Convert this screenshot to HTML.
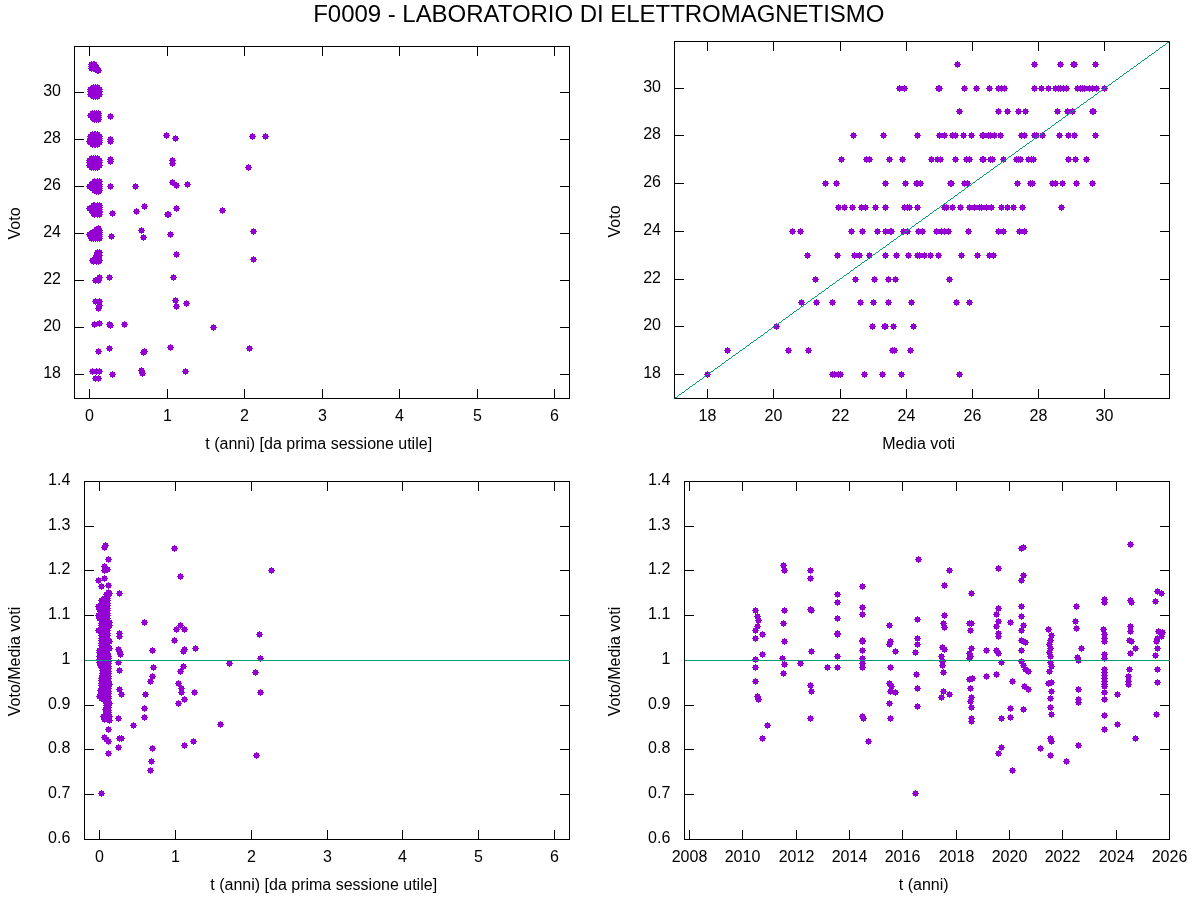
<!DOCTYPE html>
<html><head><meta charset="utf-8"><title>F0009 - LABORATORIO DI ELETTROMAGNETISMO</title>
<style>html,body{margin:0;padding:0;background:#fff;}svg{display:block;opacity:0.999;will-change:transform;}text{font-family:"Liberation Sans", sans-serif;font-size:16px;fill:#000;}</style></head><body>
<svg width="1200" height="900" viewBox="0 0 1200 900">
<rect width="1200" height="900" fill="#fff"/>
<text x="313.2" y="21.7" textLength="571.2" style="font-size:24px">F0009 - LABORATORIO DI ELETTROMAGNETISMO</text>
<path d="M89.5 399.0V389.0M89.5 46.0V56.0M167.5 399.0V389.0M167.5 46.0V56.0M244.5 399.0V389.0M244.5 46.0V56.0M322.5 399.0V389.0M322.5 46.0V56.0M399.5 399.0V389.0M399.5 46.0V56.0M477.5 399.0V389.0M477.5 46.0V56.0M554.5 399.0V389.0M554.5 46.0V56.0M74.0 374.5H84.0M570.0 374.5H560.0M74.0 327.5H84.0M570.0 327.5H560.0M74.0 280.5H84.0M570.0 280.5H560.0M74.0 233.5H84.0M570.0 233.5H560.0M74.0 186.5H84.0M570.0 186.5H560.0M74.0 139.5H84.0M570.0 139.5H560.0M74.0 92.5H84.0M570.0 92.5H560.0" stroke="#000" stroke-width="1" fill="none" shape-rendering="crispEdges"/>
<rect x="74.5" y="46.5" width="495.0" height="352.0" fill="none" stroke="#000" stroke-width="1" shape-rendering="crispEdges"/>
<text x="89.5" y="421.1" text-anchor="middle">0</text>
<text x="167.5" y="421.1" text-anchor="middle">1</text>
<text x="244.5" y="421.1" text-anchor="middle">2</text>
<text x="322.5" y="421.1" text-anchor="middle">3</text>
<text x="399.5" y="421.1" text-anchor="middle">4</text>
<text x="477.5" y="421.1" text-anchor="middle">5</text>
<text x="554.5" y="421.1" text-anchor="middle">6</text>
<text x="61.0" y="378.0" text-anchor="end">18</text>
<text x="61.0" y="331.0" text-anchor="end">20</text>
<text x="61.0" y="284.0" text-anchor="end">22</text>
<text x="61.0" y="237.0" text-anchor="end">24</text>
<text x="61.0" y="190.0" text-anchor="end">26</text>
<text x="61.0" y="143.0" text-anchor="end">28</text>
<text x="61.0" y="96.0" text-anchor="end">30</text>
<text x="318.7" y="448.5" text-anchor="middle">t (anni) [da prima sessione utile]</text>
<text transform="translate(19.6 223.4) rotate(-90)" text-anchor="middle">Voto</text>
<path fill="#9400d3" d="M87 139h5v5h-5zm-1 2h7v1h-7zm3-3h1v7h-1zM87 158h5v5h-5zm-1 2h7v1h-7zm3-3h1v7h-1zM87 160h5v5h-5zm-1 2h7v1h-7zm3-3h1v7h-1zM87 163h5v5h-5zm-1 2h7v1h-7zm3-3h1v7h-1zM87 184h5v5h-5zm-1 2h7v1h-7zm3-3h1v7h-1zM87 206h5v5h-5zm-1 2h7v1h-7zm3-3h1v7h-1zM87 232h5v5h-5zm-1 2h7v1h-7zm3-3h1v7h-1zM88 87h5v5h-5zm-1 2h7v1h-7zm3-3h1v7h-1zM88 89h5v5h-5zm-1 2h7v1h-7zm3-3h1v7h-1zM88 92h5v5h-5zm-1 2h7v1h-7zm3-3h1v7h-1zM88 113h5v5h-5zm-1 2h7v1h-7zm3-3h1v7h-1zM88 134h5v5h-5zm-1 2h7v1h-7zm3-3h1v7h-1zM88 136h5v5h-5zm-1 2h7v1h-7zm3-3h1v7h-1zM88 138h5v5h-5zm-1 2h7v1h-7zm3-3h1v7h-1zM88 140h5v5h-5zm-1 2h7v1h-7zm3-3h1v7h-1zM88 234h5v5h-5zm-1 2h7v1h-7zm3-3h1v7h-1zM89 62h5v5h-5zm-1 2h7v1h-7zm3-3h1v7h-1zM89 64h5v5h-5zm-1 2h7v1h-7zm3-3h1v7h-1zM89 66h5v5h-5zm-1 2h7v1h-7zm3-3h1v7h-1zM89 156h5v5h-5zm-1 2h7v1h-7zm3-3h1v7h-1zM89 158h5v5h-5zm-1 2h7v1h-7zm3-3h1v7h-1zM89 160h5v5h-5zm-1 2h7v1h-7zm3-3h1v7h-1zM89 163h5v5h-5zm-1 2h7v1h-7zm3-3h1v7h-1zM89 165h5v5h-5zm-1 2h7v1h-7zm3-3h1v7h-1zM89 182h5v5h-5zm-1 2h7v1h-7zm3-3h1v7h-1zM89 185h5v5h-5zm-1 2h7v1h-7zm3-3h1v7h-1zM89 205h5v5h-5zm-1 2h7v1h-7zm3-3h1v7h-1zM89 208h5v5h-5zm-1 2h7v1h-7zm3-3h1v7h-1zM89 232h5v5h-5zm-1 2h7v1h-7zm3-3h1v7h-1zM89 236h5v5h-5zm-1 2h7v1h-7zm3-3h1v7h-1zM90 111h5v5h-5zm-1 2h7v1h-7zm3-3h1v7h-1zM90 112h5v5h-5zm-1 2h7v1h-7zm3-3h1v7h-1zM90 115h5v5h-5zm-1 2h7v1h-7zm3-3h1v7h-1zM90 132h5v5h-5zm-1 2h7v1h-7zm3-3h1v7h-1zM90 134h5v5h-5zm-1 2h7v1h-7zm3-3h1v7h-1zM90 136h5v5h-5zm-1 2h7v1h-7zm3-3h1v7h-1zM90 138h5v5h-5zm-1 2h7v1h-7zm3-3h1v7h-1zM90 140h5v5h-5zm-1 2h7v1h-7zm3-3h1v7h-1zM90 142h5v5h-5zm-1 2h7v1h-7zm3-3h1v7h-1zM90 181h5v5h-5zm-1 2h7v1h-7zm3-3h1v7h-1zM90 186h5v5h-5zm-1 2h7v1h-7zm3-3h1v7h-1zM90 206h5v5h-5zm-1 2h7v1h-7zm3-3h1v7h-1zM90 230h5v5h-5zm-1 2h7v1h-7zm3-3h1v7h-1zM90 234h5v5h-5zm-1 2h7v1h-7zm3-3h1v7h-1zM90 258h5v5h-5zm-1 2h7v1h-7zm3-3h1v7h-1zM90 369h5v5h-5zm-1 2h7v1h-7zm3-3h1v7h-1zM91 62h5v5h-5zm-1 2h7v1h-7zm3-3h1v7h-1zM91 64h5v5h-5zm-1 2h7v1h-7zm3-3h1v7h-1zM91 66h5v5h-5zm-1 2h7v1h-7zm3-3h1v7h-1zM91 85h5v5h-5zm-1 2h7v1h-7zm3-3h1v7h-1zM91 87h5v5h-5zm-1 2h7v1h-7zm3-3h1v7h-1zM91 89h5v5h-5zm-1 2h7v1h-7zm3-3h1v7h-1zM91 92h5v5h-5zm-1 2h7v1h-7zm3-3h1v7h-1zM91 94h5v5h-5zm-1 2h7v1h-7zm3-3h1v7h-1zM91 116h5v5h-5zm-1 2h7v1h-7zm3-3h1v7h-1zM91 156h5v5h-5zm-1 2h7v1h-7zm3-3h1v7h-1zM91 158h5v5h-5zm-1 2h7v1h-7zm3-3h1v7h-1zM91 160h5v5h-5zm-1 2h7v1h-7zm3-3h1v7h-1zM91 163h5v5h-5zm-1 2h7v1h-7zm3-3h1v7h-1zM91 165h5v5h-5zm-1 2h7v1h-7zm3-3h1v7h-1zM91 183h5v5h-5zm-1 2h7v1h-7zm3-3h1v7h-1zM91 203h5v5h-5zm-1 2h7v1h-7zm3-3h1v7h-1zM91 209h5v5h-5zm-1 2h7v1h-7zm3-3h1v7h-1zM91 211h5v5h-5zm-1 2h7v1h-7zm3-3h1v7h-1zM91 232h5v5h-5zm-1 2h7v1h-7zm3-3h1v7h-1zM91 236h5v5h-5zm-1 2h7v1h-7zm3-3h1v7h-1zM91 259h5v5h-5zm-1 2h7v1h-7zm3-3h1v7h-1zM92 62h5v5h-5zm-1 2h7v1h-7zm3-3h1v7h-1zM92 64h5v5h-5zm-1 2h7v1h-7zm3-3h1v7h-1zM92 66h5v5h-5zm-1 2h7v1h-7zm3-3h1v7h-1zM92 111h5v5h-5zm-1 2h7v1h-7zm3-3h1v7h-1zM92 113h5v5h-5zm-1 2h7v1h-7zm3-3h1v7h-1zM92 115h5v5h-5zm-1 2h7v1h-7zm3-3h1v7h-1zM92 117h5v5h-5zm-1 2h7v1h-7zm3-3h1v7h-1zM92 132h5v5h-5zm-1 2h7v1h-7zm3-3h1v7h-1zM92 134h5v5h-5zm-1 2h7v1h-7zm3-3h1v7h-1zM92 136h5v5h-5zm-1 2h7v1h-7zm3-3h1v7h-1zM92 138h5v5h-5zm-1 2h7v1h-7zm3-3h1v7h-1zM92 140h5v5h-5zm-1 2h7v1h-7zm3-3h1v7h-1zM92 142h5v5h-5zm-1 2h7v1h-7zm3-3h1v7h-1zM92 179h5v5h-5zm-1 2h7v1h-7zm3-3h1v7h-1zM92 182h5v5h-5zm-1 2h7v1h-7zm3-3h1v7h-1zM92 184h5v5h-5zm-1 2h7v1h-7zm3-3h1v7h-1zM92 186h5v5h-5zm-1 2h7v1h-7zm3-3h1v7h-1zM92 188h5v5h-5zm-1 2h7v1h-7zm3-3h1v7h-1zM92 203h5v5h-5zm-1 2h7v1h-7zm3-3h1v7h-1zM92 205h5v5h-5zm-1 2h7v1h-7zm3-3h1v7h-1zM92 207h5v5h-5zm-1 2h7v1h-7zm3-3h1v7h-1zM92 209h5v5h-5zm-1 2h7v1h-7zm3-3h1v7h-1zM92 210h5v5h-5zm-1 2h7v1h-7zm3-3h1v7h-1zM92 212h5v5h-5zm-1 2h7v1h-7zm3-3h1v7h-1zM92 229h5v5h-5zm-1 2h7v1h-7zm3-3h1v7h-1zM92 230h5v5h-5zm-1 2h7v1h-7zm3-3h1v7h-1zM92 234h5v5h-5zm-1 2h7v1h-7zm3-3h1v7h-1zM92 257h5v5h-5zm-1 2h7v1h-7zm3-3h1v7h-1zM92 322h5v5h-5zm-1 2h7v1h-7zm3-3h1v7h-1zM93 85h5v5h-5zm-1 2h7v1h-7zm3-3h1v7h-1zM93 87h5v5h-5zm-1 2h7v1h-7zm3-3h1v7h-1zM93 89h5v5h-5zm-1 2h7v1h-7zm3-3h1v7h-1zM93 92h5v5h-5zm-1 2h7v1h-7zm3-3h1v7h-1zM93 94h5v5h-5zm-1 2h7v1h-7zm3-3h1v7h-1zM93 132h5v5h-5zm-1 2h7v1h-7zm3-3h1v7h-1zM93 134h5v5h-5zm-1 2h7v1h-7zm3-3h1v7h-1zM93 136h5v5h-5zm-1 2h7v1h-7zm3-3h1v7h-1zM93 138h5v5h-5zm-1 2h7v1h-7zm3-3h1v7h-1zM93 140h5v5h-5zm-1 2h7v1h-7zm3-3h1v7h-1zM93 142h5v5h-5zm-1 2h7v1h-7zm3-3h1v7h-1zM93 156h5v5h-5zm-1 2h7v1h-7zm3-3h1v7h-1zM93 158h5v5h-5zm-1 2h7v1h-7zm3-3h1v7h-1zM93 160h5v5h-5zm-1 2h7v1h-7zm3-3h1v7h-1zM93 163h5v5h-5zm-1 2h7v1h-7zm3-3h1v7h-1zM93 165h5v5h-5zm-1 2h7v1h-7zm3-3h1v7h-1zM93 232h5v5h-5zm-1 2h7v1h-7zm3-3h1v7h-1zM93 234h5v5h-5zm-1 2h7v1h-7zm3-3h1v7h-1zM93 236h5v5h-5zm-1 2h7v1h-7zm3-3h1v7h-1zM93 255h5v5h-5zm-1 2h7v1h-7zm3-3h1v7h-1zM93 278h5v5h-5zm-1 2h7v1h-7zm3-3h1v7h-1zM93 299h5v5h-5zm-1 2h7v1h-7zm3-3h1v7h-1zM93 376h5v5h-5zm-1 2h7v1h-7zm3-3h1v7h-1zM94 65h5v5h-5zm-1 2h7v1h-7zm3-3h1v7h-1zM94 67h5v5h-5zm-1 2h7v1h-7zm3-3h1v7h-1zM94 111h5v5h-5zm-1 2h7v1h-7zm3-3h1v7h-1zM94 113h5v5h-5zm-1 2h7v1h-7zm3-3h1v7h-1zM94 115h5v5h-5zm-1 2h7v1h-7zm3-3h1v7h-1zM94 117h5v5h-5zm-1 2h7v1h-7zm3-3h1v7h-1zM94 189h5v5h-5zm-1 2h7v1h-7zm3-3h1v7h-1zM94 227h5v5h-5zm-1 2h7v1h-7zm3-3h1v7h-1zM94 229h5v5h-5zm-1 2h7v1h-7zm3-3h1v7h-1zM94 230h5v5h-5zm-1 2h7v1h-7zm3-3h1v7h-1zM94 253h5v5h-5zm-1 2h7v1h-7zm3-3h1v7h-1zM94 259h5v5h-5zm-1 2h7v1h-7zm3-3h1v7h-1zM94 369h5v5h-5zm-1 2h7v1h-7zm3-3h1v7h-1zM95 68h5v5h-5zm-1 2h7v1h-7zm3-3h1v7h-1zM95 85h5v5h-5zm-1 2h7v1h-7zm3-3h1v7h-1zM95 87h5v5h-5zm-1 2h7v1h-7zm3-3h1v7h-1zM95 89h5v5h-5zm-1 2h7v1h-7zm3-3h1v7h-1zM95 92h5v5h-5zm-1 2h7v1h-7zm3-3h1v7h-1zM95 94h5v5h-5zm-1 2h7v1h-7zm3-3h1v7h-1zM95 132h5v5h-5zm-1 2h7v1h-7zm3-3h1v7h-1zM95 134h5v5h-5zm-1 2h7v1h-7zm3-3h1v7h-1zM95 136h5v5h-5zm-1 2h7v1h-7zm3-3h1v7h-1zM95 138h5v5h-5zm-1 2h7v1h-7zm3-3h1v7h-1zM95 140h5v5h-5zm-1 2h7v1h-7zm3-3h1v7h-1zM95 142h5v5h-5zm-1 2h7v1h-7zm3-3h1v7h-1zM95 156h5v5h-5zm-1 2h7v1h-7zm3-3h1v7h-1zM95 158h5v5h-5zm-1 2h7v1h-7zm3-3h1v7h-1zM95 160h5v5h-5zm-1 2h7v1h-7zm3-3h1v7h-1zM95 163h5v5h-5zm-1 2h7v1h-7zm3-3h1v7h-1zM95 165h5v5h-5zm-1 2h7v1h-7zm3-3h1v7h-1zM95 179h5v5h-5zm-1 2h7v1h-7zm3-3h1v7h-1zM95 182h5v5h-5zm-1 2h7v1h-7zm3-3h1v7h-1zM95 184h5v5h-5zm-1 2h7v1h-7zm3-3h1v7h-1zM95 186h5v5h-5zm-1 2h7v1h-7zm3-3h1v7h-1zM95 188h5v5h-5zm-1 2h7v1h-7zm3-3h1v7h-1zM95 203h5v5h-5zm-1 2h7v1h-7zm3-3h1v7h-1zM95 205h5v5h-5zm-1 2h7v1h-7zm3-3h1v7h-1zM95 207h5v5h-5zm-1 2h7v1h-7zm3-3h1v7h-1zM95 209h5v5h-5zm-1 2h7v1h-7zm3-3h1v7h-1zM95 210h5v5h-5zm-1 2h7v1h-7zm3-3h1v7h-1zM95 212h5v5h-5zm-1 2h7v1h-7zm3-3h1v7h-1zM95 230h5v5h-5zm-1 2h7v1h-7zm3-3h1v7h-1zM95 232h5v5h-5zm-1 2h7v1h-7zm3-3h1v7h-1zM95 234h5v5h-5zm-1 2h7v1h-7zm3-3h1v7h-1zM95 236h5v5h-5zm-1 2h7v1h-7zm3-3h1v7h-1zM95 250h5v5h-5zm-1 2h7v1h-7zm3-3h1v7h-1zM95 277h5v5h-5zm-1 2h7v1h-7zm3-3h1v7h-1zM96 68h5v5h-5zm-1 2h7v1h-7zm3-3h1v7h-1zM96 111h5v5h-5zm-1 2h7v1h-7zm3-3h1v7h-1zM96 113h5v5h-5zm-1 2h7v1h-7zm3-3h1v7h-1zM96 115h5v5h-5zm-1 2h7v1h-7zm3-3h1v7h-1zM96 117h5v5h-5zm-1 2h7v1h-7zm3-3h1v7h-1zM96 189h5v5h-5zm-1 2h7v1h-7zm3-3h1v7h-1zM96 226h5v5h-5zm-1 2h7v1h-7zm3-3h1v7h-1zM96 256h5v5h-5zm-1 2h7v1h-7zm3-3h1v7h-1zM96 259h5v5h-5zm-1 2h7v1h-7zm3-3h1v7h-1zM96 278h5v5h-5zm-1 2h7v1h-7zm3-3h1v7h-1zM96 306h5v5h-5zm-1 2h7v1h-7zm3-3h1v7h-1zM96 349h5v5h-5zm-1 2h7v1h-7zm3-3h1v7h-1zM96 376h5v5h-5zm-1 2h7v1h-7zm3-3h1v7h-1zM97 87h5v5h-5zm-1 2h7v1h-7zm3-3h1v7h-1zM97 89h5v5h-5zm-1 2h7v1h-7zm3-3h1v7h-1zM97 92h5v5h-5zm-1 2h7v1h-7zm3-3h1v7h-1zM97 134h5v5h-5zm-1 2h7v1h-7zm3-3h1v7h-1zM97 136h5v5h-5zm-1 2h7v1h-7zm3-3h1v7h-1zM97 138h5v5h-5zm-1 2h7v1h-7zm3-3h1v7h-1zM97 140h5v5h-5zm-1 2h7v1h-7zm3-3h1v7h-1zM97 158h5v5h-5zm-1 2h7v1h-7zm3-3h1v7h-1zM97 160h5v5h-5zm-1 2h7v1h-7zm3-3h1v7h-1zM97 163h5v5h-5zm-1 2h7v1h-7zm3-3h1v7h-1zM97 179h5v5h-5zm-1 2h7v1h-7zm3-3h1v7h-1zM97 182h5v5h-5zm-1 2h7v1h-7zm3-3h1v7h-1zM97 184h5v5h-5zm-1 2h7v1h-7zm3-3h1v7h-1zM97 186h5v5h-5zm-1 2h7v1h-7zm3-3h1v7h-1zM97 188h5v5h-5zm-1 2h7v1h-7zm3-3h1v7h-1zM97 203h5v5h-5zm-1 2h7v1h-7zm3-3h1v7h-1zM97 205h5v5h-5zm-1 2h7v1h-7zm3-3h1v7h-1zM97 207h5v5h-5zm-1 2h7v1h-7zm3-3h1v7h-1zM97 209h5v5h-5zm-1 2h7v1h-7zm3-3h1v7h-1zM97 210h5v5h-5zm-1 2h7v1h-7zm3-3h1v7h-1zM97 212h5v5h-5zm-1 2h7v1h-7zm3-3h1v7h-1zM97 228h5v5h-5zm-1 2h7v1h-7zm3-3h1v7h-1zM97 230h5v5h-5zm-1 2h7v1h-7zm3-3h1v7h-1zM97 232h5v5h-5zm-1 2h7v1h-7zm3-3h1v7h-1zM97 234h5v5h-5zm-1 2h7v1h-7zm3-3h1v7h-1zM97 236h5v5h-5zm-1 2h7v1h-7zm3-3h1v7h-1zM97 250h5v5h-5zm-1 2h7v1h-7zm3-3h1v7h-1zM97 253h5v5h-5zm-1 2h7v1h-7zm3-3h1v7h-1zM97 258h5v5h-5zm-1 2h7v1h-7zm3-3h1v7h-1zM97 275h5v5h-5zm-1 2h7v1h-7zm3-3h1v7h-1zM97 299h5v5h-5zm-1 2h7v1h-7zm3-3h1v7h-1zM97 303h5v5h-5zm-1 2h7v1h-7zm3-3h1v7h-1zM97 321h5v5h-5zm-1 2h7v1h-7zm3-3h1v7h-1zM97 369h5v5h-5zm-1 2h7v1h-7zm3-3h1v7h-1zM107 275h5v5h-5zm-1 2h7v1h-7zm3-3h1v7h-1zM107 322h5v5h-5zm-1 2h7v1h-7zm3-3h1v7h-1zM107 346h5v5h-5zm-1 2h7v1h-7zm3-3h1v7h-1zM108 114h5v5h-5zm-1 2h7v1h-7zm3-3h1v7h-1zM108 137h5v5h-5zm-1 2h7v1h-7zm3-3h1v7h-1zM108 139h5v5h-5zm-1 2h7v1h-7zm3-3h1v7h-1zM108 157h5v5h-5zm-1 2h7v1h-7zm3-3h1v7h-1zM108 159h5v5h-5zm-1 2h7v1h-7zm3-3h1v7h-1zM108 184h5v5h-5zm-1 2h7v1h-7zm3-3h1v7h-1zM108 323h5v5h-5zm-1 2h7v1h-7zm3-3h1v7h-1zM109 234h5v5h-5zm-1 2h7v1h-7zm3-3h1v7h-1zM110 211h5v5h-5zm-1 2h7v1h-7zm3-3h1v7h-1zM110 372h5v5h-5zm-1 2h7v1h-7zm3-3h1v7h-1zM122 322h5v5h-5zm-1 2h7v1h-7zm3-3h1v7h-1zM133 184h5v5h-5zm-1 2h7v1h-7zm3-3h1v7h-1zM134 209h5v5h-5zm-1 2h7v1h-7zm3-3h1v7h-1zM139 228h5v5h-5zm-1 2h7v1h-7zm3-3h1v7h-1zM139 368h5v5h-5zm-1 2h7v1h-7zm3-3h1v7h-1zM140 371h5v5h-5zm-1 2h7v1h-7zm3-3h1v7h-1zM141 235h5v5h-5zm-1 2h7v1h-7zm3-3h1v7h-1zM141 350h5v5h-5zm-1 2h7v1h-7zm3-3h1v7h-1zM142 204h5v5h-5zm-1 2h7v1h-7zm3-3h1v7h-1zM142 349h5v5h-5zm-1 2h7v1h-7zm3-3h1v7h-1zM164 133h5v5h-5zm-1 2h7v1h-7zm3-3h1v7h-1zM165 212h5v5h-5zm-1 2h7v1h-7zm3-3h1v7h-1zM166 212h5v5h-5zm-1 2h7v1h-7zm3-3h1v7h-1zM168 232h5v5h-5zm-1 2h7v1h-7zm3-3h1v7h-1zM168 345h5v5h-5zm-1 2h7v1h-7zm3-3h1v7h-1zM170 158h5v5h-5zm-1 2h7v1h-7zm3-3h1v7h-1zM170 161h5v5h-5zm-1 2h7v1h-7zm3-3h1v7h-1zM170 180h5v5h-5zm-1 2h7v1h-7zm3-3h1v7h-1zM171 275h5v5h-5zm-1 2h7v1h-7zm3-3h1v7h-1zM173 136h5v5h-5zm-1 2h7v1h-7zm3-3h1v7h-1zM173 298h5v5h-5zm-1 2h7v1h-7zm3-3h1v7h-1zM174 183h5v5h-5zm-1 2h7v1h-7zm3-3h1v7h-1zM174 206h5v5h-5zm-1 2h7v1h-7zm3-3h1v7h-1zM174 252h5v5h-5zm-1 2h7v1h-7zm3-3h1v7h-1zM174 304h5v5h-5zm-1 2h7v1h-7zm3-3h1v7h-1zM183 369h5v5h-5zm-1 2h7v1h-7zm3-3h1v7h-1zM184 301h5v5h-5zm-1 2h7v1h-7zm3-3h1v7h-1zM185 182h5v5h-5zm-1 2h7v1h-7zm3-3h1v7h-1zM211 325h5v5h-5zm-1 2h7v1h-7zm3-3h1v7h-1zM220 208h5v5h-5zm-1 2h7v1h-7zm3-3h1v7h-1zM246 165h5v5h-5zm-1 2h7v1h-7zm3-3h1v7h-1zM247 346h5v5h-5zm-1 2h7v1h-7zm3-3h1v7h-1zM250 134h5v5h-5zm-1 2h7v1h-7zm3-3h1v7h-1zM251 229h5v5h-5zm-1 2h7v1h-7zm3-3h1v7h-1zM251 257h5v5h-5zm-1 2h7v1h-7zm3-3h1v7h-1zM263 134h5v5h-5zm-1 2h7v1h-7zm3-3h1v7h-1z"/>
<path d="M707.5 399.0V389.0M707.5 41.0V51.0M773.5 399.0V389.0M773.5 41.0V51.0M840.5 399.0V389.0M840.5 41.0V51.0M906.5 399.0V389.0M906.5 41.0V51.0M972.5 399.0V389.0M972.5 41.0V51.0M1038.5 399.0V389.0M1038.5 41.0V51.0M1104.5 399.0V389.0M1104.5 41.0V51.0M674.0 374.5H684.0M1170.0 374.5H1160.0M674.0 326.5H684.0M1170.0 326.5H1160.0M674.0 279.5H684.0M1170.0 279.5H1160.0M674.0 231.5H684.0M1170.0 231.5H1160.0M674.0 183.5H684.0M1170.0 183.5H1160.0M674.0 135.5H684.0M1170.0 135.5H1160.0M674.0 88.5H684.0M1170.0 88.5H1160.0" stroke="#000" stroke-width="1" fill="none" shape-rendering="crispEdges"/>
<rect x="674.5" y="41.5" width="495.0" height="357.0" fill="none" stroke="#000" stroke-width="1" shape-rendering="crispEdges"/>
<text x="707.5" y="421.1" text-anchor="middle">18</text>
<text x="773.5" y="421.1" text-anchor="middle">20</text>
<text x="840.5" y="421.1" text-anchor="middle">22</text>
<text x="906.5" y="421.1" text-anchor="middle">24</text>
<text x="972.5" y="421.1" text-anchor="middle">26</text>
<text x="1038.5" y="421.1" text-anchor="middle">28</text>
<text x="1104.5" y="421.1" text-anchor="middle">30</text>
<text x="661.0" y="378.0" text-anchor="end">18</text>
<text x="661.0" y="330.0" text-anchor="end">20</text>
<text x="661.0" y="283.0" text-anchor="end">22</text>
<text x="661.0" y="235.0" text-anchor="end">24</text>
<text x="661.0" y="187.0" text-anchor="end">26</text>
<text x="661.0" y="139.0" text-anchor="end">28</text>
<text x="661.0" y="92.0" text-anchor="end">30</text>
<text x="918.7" y="448.5" text-anchor="middle">Media voti</text>
<text transform="translate(619.6 221.4) rotate(-90)" text-anchor="middle">Voto</text>
<path fill="#9400d3" d="M705 372h5v5h-5zm-1 2h7v1h-7zm3-3h1v7h-1zM725 348h5v5h-5zm-1 2h7v1h-7zm3-3h1v7h-1zM774 324h5v5h-5zm-1 2h7v1h-7zm3-3h1v7h-1zM786 348h5v5h-5zm-1 2h7v1h-7zm3-3h1v7h-1zM790 229h5v5h-5zm-1 2h7v1h-7zm3-3h1v7h-1zM798 229h5v5h-5zm-1 2h7v1h-7zm3-3h1v7h-1zM799 300h5v5h-5zm-1 2h7v1h-7zm3-3h1v7h-1zM805 253h5v5h-5zm-1 2h7v1h-7zm3-3h1v7h-1zM806 348h5v5h-5zm-1 2h7v1h-7zm3-3h1v7h-1zM813 277h5v5h-5zm-1 2h7v1h-7zm3-3h1v7h-1zM814 300h5v5h-5zm-1 2h7v1h-7zm3-3h1v7h-1zM823 181h5v5h-5zm-1 2h7v1h-7zm3-3h1v7h-1zM830 300h5v5h-5zm-1 2h7v1h-7zm3-3h1v7h-1zM830 372h5v5h-5zm-1 2h7v1h-7zm3-3h1v7h-1zM832 372h5v5h-5zm-1 2h7v1h-7zm3-3h1v7h-1zM834 181h5v5h-5zm-1 2h7v1h-7zm3-3h1v7h-1zM835 253h5v5h-5zm-1 2h7v1h-7zm3-3h1v7h-1zM836 205h5v5h-5zm-1 2h7v1h-7zm3-3h1v7h-1zM836 372h5v5h-5zm-1 2h7v1h-7zm3-3h1v7h-1zM838 372h5v5h-5zm-1 2h7v1h-7zm3-3h1v7h-1zM839 157h5v5h-5zm-1 2h7v1h-7zm3-3h1v7h-1zM842 205h5v5h-5zm-1 2h7v1h-7zm3-3h1v7h-1zM849 229h5v5h-5zm-1 2h7v1h-7zm3-3h1v7h-1zM850 205h5v5h-5zm-1 2h7v1h-7zm3-3h1v7h-1zM851 133h5v5h-5zm-1 2h7v1h-7zm3-3h1v7h-1zM852 253h5v5h-5zm-1 2h7v1h-7zm3-3h1v7h-1zM853 277h5v5h-5zm-1 2h7v1h-7zm3-3h1v7h-1zM857 253h5v5h-5zm-1 2h7v1h-7zm3-3h1v7h-1zM858 300h5v5h-5zm-1 2h7v1h-7zm3-3h1v7h-1zM859 205h5v5h-5zm-1 2h7v1h-7zm3-3h1v7h-1zM860 229h5v5h-5zm-1 2h7v1h-7zm3-3h1v7h-1zM862 372h5v5h-5zm-1 2h7v1h-7zm3-3h1v7h-1zM863 205h5v5h-5zm-1 2h7v1h-7zm3-3h1v7h-1zM864 157h5v5h-5zm-1 2h7v1h-7zm3-3h1v7h-1zM867 157h5v5h-5zm-1 2h7v1h-7zm3-3h1v7h-1zM867 253h5v5h-5zm-1 2h7v1h-7zm3-3h1v7h-1zM870 324h5v5h-5zm-1 2h7v1h-7zm3-3h1v7h-1zM871 300h5v5h-5zm-1 2h7v1h-7zm3-3h1v7h-1zM872 277h5v5h-5zm-1 2h7v1h-7zm3-3h1v7h-1zM873 205h5v5h-5zm-1 2h7v1h-7zm3-3h1v7h-1zM875 229h5v5h-5zm-1 2h7v1h-7zm3-3h1v7h-1zM880 372h5v5h-5zm-1 2h7v1h-7zm3-3h1v7h-1zM881 133h5v5h-5zm-1 2h7v1h-7zm3-3h1v7h-1zM882 324h5v5h-5zm-1 2h7v1h-7zm3-3h1v7h-1zM883 181h5v5h-5zm-1 2h7v1h-7zm3-3h1v7h-1zM883 205h5v5h-5zm-1 2h7v1h-7zm3-3h1v7h-1zM883 229h5v5h-5zm-1 2h7v1h-7zm3-3h1v7h-1zM883 253h5v5h-5zm-1 2h7v1h-7zm3-3h1v7h-1zM883 324h5v5h-5zm-1 2h7v1h-7zm3-3h1v7h-1zM886 277h5v5h-5zm-1 2h7v1h-7zm3-3h1v7h-1zM886 300h5v5h-5zm-1 2h7v1h-7zm3-3h1v7h-1zM887 157h5v5h-5zm-1 2h7v1h-7zm3-3h1v7h-1zM888 229h5v5h-5zm-1 2h7v1h-7zm3-3h1v7h-1zM889 229h5v5h-5zm-1 2h7v1h-7zm3-3h1v7h-1zM890 348h5v5h-5zm-1 2h7v1h-7zm3-3h1v7h-1zM891 324h5v5h-5zm-1 2h7v1h-7zm3-3h1v7h-1zM892 348h5v5h-5zm-1 2h7v1h-7zm3-3h1v7h-1zM893 277h5v5h-5zm-1 2h7v1h-7zm3-3h1v7h-1zM894 253h5v5h-5zm-1 2h7v1h-7zm3-3h1v7h-1zM897 86h5v5h-5zm-1 2h7v1h-7zm3-3h1v7h-1zM899 372h5v5h-5zm-1 2h7v1h-7zm3-3h1v7h-1zM900 157h5v5h-5zm-1 2h7v1h-7zm3-3h1v7h-1zM901 229h5v5h-5zm-1 2h7v1h-7zm3-3h1v7h-1zM902 86h5v5h-5zm-1 2h7v1h-7zm3-3h1v7h-1zM902 205h5v5h-5zm-1 2h7v1h-7zm3-3h1v7h-1zM903 181h5v5h-5zm-1 2h7v1h-7zm3-3h1v7h-1zM905 205h5v5h-5zm-1 2h7v1h-7zm3-3h1v7h-1zM905 229h5v5h-5zm-1 2h7v1h-7zm3-3h1v7h-1zM906 253h5v5h-5zm-1 2h7v1h-7zm3-3h1v7h-1zM907 205h5v5h-5zm-1 2h7v1h-7zm3-3h1v7h-1zM908 348h5v5h-5zm-1 2h7v1h-7zm3-3h1v7h-1zM909 300h5v5h-5zm-1 2h7v1h-7zm3-3h1v7h-1zM911 324h5v5h-5zm-1 2h7v1h-7zm3-3h1v7h-1zM914 181h5v5h-5zm-1 2h7v1h-7zm3-3h1v7h-1zM915 133h5v5h-5zm-1 2h7v1h-7zm3-3h1v7h-1zM915 181h5v5h-5zm-1 2h7v1h-7zm3-3h1v7h-1zM915 205h5v5h-5zm-1 2h7v1h-7zm3-3h1v7h-1zM915 253h5v5h-5zm-1 2h7v1h-7zm3-3h1v7h-1zM916 229h5v5h-5zm-1 2h7v1h-7zm3-3h1v7h-1zM917 253h5v5h-5zm-1 2h7v1h-7zm3-3h1v7h-1zM918 181h5v5h-5zm-1 2h7v1h-7zm3-3h1v7h-1zM920 229h5v5h-5zm-1 2h7v1h-7zm3-3h1v7h-1zM922 253h5v5h-5zm-1 2h7v1h-7zm3-3h1v7h-1zM928 253h5v5h-5zm-1 2h7v1h-7zm3-3h1v7h-1zM929 157h5v5h-5zm-1 2h7v1h-7zm3-3h1v7h-1zM934 229h5v5h-5zm-1 2h7v1h-7zm3-3h1v7h-1zM935 157h5v5h-5zm-1 2h7v1h-7zm3-3h1v7h-1zM936 86h5v5h-5zm-1 2h7v1h-7zm3-3h1v7h-1zM936 253h5v5h-5zm-1 2h7v1h-7zm3-3h1v7h-1zM937 86h5v5h-5zm-1 2h7v1h-7zm3-3h1v7h-1zM937 133h5v5h-5zm-1 2h7v1h-7zm3-3h1v7h-1zM938 157h5v5h-5zm-1 2h7v1h-7zm3-3h1v7h-1zM939 229h5v5h-5zm-1 2h7v1h-7zm3-3h1v7h-1zM942 133h5v5h-5zm-1 2h7v1h-7zm3-3h1v7h-1zM942 205h5v5h-5zm-1 2h7v1h-7zm3-3h1v7h-1zM942 229h5v5h-5zm-1 2h7v1h-7zm3-3h1v7h-1zM944 205h5v5h-5zm-1 2h7v1h-7zm3-3h1v7h-1zM946 229h5v5h-5zm-1 2h7v1h-7zm3-3h1v7h-1zM947 277h5v5h-5zm-1 2h7v1h-7zm3-3h1v7h-1zM948 181h5v5h-5zm-1 2h7v1h-7zm3-3h1v7h-1zM949 181h5v5h-5zm-1 2h7v1h-7zm3-3h1v7h-1zM950 133h5v5h-5zm-1 2h7v1h-7zm3-3h1v7h-1zM950 205h5v5h-5zm-1 2h7v1h-7zm3-3h1v7h-1zM953 133h5v5h-5zm-1 2h7v1h-7zm3-3h1v7h-1zM953 157h5v5h-5zm-1 2h7v1h-7zm3-3h1v7h-1zM954 300h5v5h-5zm-1 2h7v1h-7zm3-3h1v7h-1zM955 62h5v5h-5zm-1 2h7v1h-7zm3-3h1v7h-1zM957 109h5v5h-5zm-1 2h7v1h-7zm3-3h1v7h-1zM957 372h5v5h-5zm-1 2h7v1h-7zm3-3h1v7h-1zM958 205h5v5h-5zm-1 2h7v1h-7zm3-3h1v7h-1zM959 253h5v5h-5zm-1 2h7v1h-7zm3-3h1v7h-1zM961 133h5v5h-5zm-1 2h7v1h-7zm3-3h1v7h-1zM962 86h5v5h-5zm-1 2h7v1h-7zm3-3h1v7h-1zM962 181h5v5h-5zm-1 2h7v1h-7zm3-3h1v7h-1zM964 157h5v5h-5zm-1 2h7v1h-7zm3-3h1v7h-1zM965 181h5v5h-5zm-1 2h7v1h-7zm3-3h1v7h-1zM966 229h5v5h-5zm-1 2h7v1h-7zm3-3h1v7h-1zM967 157h5v5h-5zm-1 2h7v1h-7zm3-3h1v7h-1zM967 205h5v5h-5zm-1 2h7v1h-7zm3-3h1v7h-1zM967 300h5v5h-5zm-1 2h7v1h-7zm3-3h1v7h-1zM969 133h5v5h-5zm-1 2h7v1h-7zm3-3h1v7h-1zM972 205h5v5h-5zm-1 2h7v1h-7zm3-3h1v7h-1zM974 86h5v5h-5zm-1 2h7v1h-7zm3-3h1v7h-1zM975 253h5v5h-5zm-1 2h7v1h-7zm3-3h1v7h-1zM977 205h5v5h-5zm-1 2h7v1h-7zm3-3h1v7h-1zM979 205h5v5h-5zm-1 2h7v1h-7zm3-3h1v7h-1zM980 133h5v5h-5zm-1 2h7v1h-7zm3-3h1v7h-1zM980 157h5v5h-5zm-1 2h7v1h-7zm3-3h1v7h-1zM981 133h5v5h-5zm-1 2h7v1h-7zm3-3h1v7h-1zM981 157h5v5h-5zm-1 2h7v1h-7zm3-3h1v7h-1zM984 205h5v5h-5zm-1 2h7v1h-7zm3-3h1v7h-1zM986 133h5v5h-5zm-1 2h7v1h-7zm3-3h1v7h-1zM987 86h5v5h-5zm-1 2h7v1h-7zm3-3h1v7h-1zM987 253h5v5h-5zm-1 2h7v1h-7zm3-3h1v7h-1zM988 133h5v5h-5zm-1 2h7v1h-7zm3-3h1v7h-1zM988 157h5v5h-5zm-1 2h7v1h-7zm3-3h1v7h-1zM989 205h5v5h-5zm-1 2h7v1h-7zm3-3h1v7h-1zM990 157h5v5h-5zm-1 2h7v1h-7zm3-3h1v7h-1zM991 253h5v5h-5zm-1 2h7v1h-7zm3-3h1v7h-1zM992 133h5v5h-5zm-1 2h7v1h-7zm3-3h1v7h-1zM996 86h5v5h-5zm-1 2h7v1h-7zm3-3h1v7h-1zM996 109h5v5h-5zm-1 2h7v1h-7zm3-3h1v7h-1zM996 229h5v5h-5zm-1 2h7v1h-7zm3-3h1v7h-1zM998 133h5v5h-5zm-1 2h7v1h-7zm3-3h1v7h-1zM999 86h5v5h-5zm-1 2h7v1h-7zm3-3h1v7h-1zM999 205h5v5h-5zm-1 2h7v1h-7zm3-3h1v7h-1zM1001 157h5v5h-5zm-1 2h7v1h-7zm3-3h1v7h-1zM1001 229h5v5h-5zm-1 2h7v1h-7zm3-3h1v7h-1zM1002 86h5v5h-5zm-1 2h7v1h-7zm3-3h1v7h-1zM1005 109h5v5h-5zm-1 2h7v1h-7zm3-3h1v7h-1zM1005 205h5v5h-5zm-1 2h7v1h-7zm3-3h1v7h-1zM1011 205h5v5h-5zm-1 2h7v1h-7zm3-3h1v7h-1zM1014 157h5v5h-5zm-1 2h7v1h-7zm3-3h1v7h-1zM1015 181h5v5h-5zm-1 2h7v1h-7zm3-3h1v7h-1zM1016 109h5v5h-5zm-1 2h7v1h-7zm3-3h1v7h-1zM1016 157h5v5h-5zm-1 2h7v1h-7zm3-3h1v7h-1zM1017 229h5v5h-5zm-1 2h7v1h-7zm3-3h1v7h-1zM1018 157h5v5h-5zm-1 2h7v1h-7zm3-3h1v7h-1zM1019 133h5v5h-5zm-1 2h7v1h-7zm3-3h1v7h-1zM1020 205h5v5h-5zm-1 2h7v1h-7zm3-3h1v7h-1zM1022 133h5v5h-5zm-1 2h7v1h-7zm3-3h1v7h-1zM1022 229h5v5h-5zm-1 2h7v1h-7zm3-3h1v7h-1zM1023 109h5v5h-5zm-1 2h7v1h-7zm3-3h1v7h-1zM1026 157h5v5h-5zm-1 2h7v1h-7zm3-3h1v7h-1zM1028 181h5v5h-5zm-1 2h7v1h-7zm3-3h1v7h-1zM1029 157h5v5h-5zm-1 2h7v1h-7zm3-3h1v7h-1zM1030 181h5v5h-5zm-1 2h7v1h-7zm3-3h1v7h-1zM1031 157h5v5h-5zm-1 2h7v1h-7zm3-3h1v7h-1zM1032 62h5v5h-5zm-1 2h7v1h-7zm3-3h1v7h-1zM1032 86h5v5h-5zm-1 2h7v1h-7zm3-3h1v7h-1zM1032 133h5v5h-5zm-1 2h7v1h-7zm3-3h1v7h-1zM1034 133h5v5h-5zm-1 2h7v1h-7zm3-3h1v7h-1zM1039 86h5v5h-5zm-1 2h7v1h-7zm3-3h1v7h-1zM1040 133h5v5h-5zm-1 2h7v1h-7zm3-3h1v7h-1zM1046 86h5v5h-5zm-1 2h7v1h-7zm3-3h1v7h-1zM1050 181h5v5h-5zm-1 2h7v1h-7zm3-3h1v7h-1zM1053 86h5v5h-5zm-1 2h7v1h-7zm3-3h1v7h-1zM1053 181h5v5h-5zm-1 2h7v1h-7zm3-3h1v7h-1zM1055 109h5v5h-5zm-1 2h7v1h-7zm3-3h1v7h-1zM1056 86h5v5h-5zm-1 2h7v1h-7zm3-3h1v7h-1zM1057 133h5v5h-5zm-1 2h7v1h-7zm3-3h1v7h-1zM1058 62h5v5h-5zm-1 2h7v1h-7zm3-3h1v7h-1zM1058 86h5v5h-5zm-1 2h7v1h-7zm3-3h1v7h-1zM1059 205h5v5h-5zm-1 2h7v1h-7zm3-3h1v7h-1zM1060 181h5v5h-5zm-1 2h7v1h-7zm3-3h1v7h-1zM1061 86h5v5h-5zm-1 2h7v1h-7zm3-3h1v7h-1zM1064 86h5v5h-5zm-1 2h7v1h-7zm3-3h1v7h-1zM1065 109h5v5h-5zm-1 2h7v1h-7zm3-3h1v7h-1zM1066 133h5v5h-5zm-1 2h7v1h-7zm3-3h1v7h-1zM1066 157h5v5h-5zm-1 2h7v1h-7zm3-3h1v7h-1zM1070 109h5v5h-5zm-1 2h7v1h-7zm3-3h1v7h-1zM1071 62h5v5h-5zm-1 2h7v1h-7zm3-3h1v7h-1zM1072 62h5v5h-5zm-1 2h7v1h-7zm3-3h1v7h-1zM1072 133h5v5h-5zm-1 2h7v1h-7zm3-3h1v7h-1zM1073 157h5v5h-5zm-1 2h7v1h-7zm3-3h1v7h-1zM1074 181h5v5h-5zm-1 2h7v1h-7zm3-3h1v7h-1zM1075 86h5v5h-5zm-1 2h7v1h-7zm3-3h1v7h-1zM1078 86h5v5h-5zm-1 2h7v1h-7zm3-3h1v7h-1zM1080 86h5v5h-5zm-1 2h7v1h-7zm3-3h1v7h-1zM1082 86h5v5h-5zm-1 2h7v1h-7zm3-3h1v7h-1zM1084 157h5v5h-5zm-1 2h7v1h-7zm3-3h1v7h-1zM1087 86h5v5h-5zm-1 2h7v1h-7zm3-3h1v7h-1zM1090 86h5v5h-5zm-1 2h7v1h-7zm3-3h1v7h-1zM1090 109h5v5h-5zm-1 2h7v1h-7zm3-3h1v7h-1zM1090 181h5v5h-5zm-1 2h7v1h-7zm3-3h1v7h-1zM1091 109h5v5h-5zm-1 2h7v1h-7zm3-3h1v7h-1zM1093 62h5v5h-5zm-1 2h7v1h-7zm3-3h1v7h-1zM1093 133h5v5h-5zm-1 2h7v1h-7zm3-3h1v7h-1zM1094 86h5v5h-5zm-1 2h7v1h-7zm3-3h1v7h-1zM1102 86h5v5h-5zm-1 2h7v1h-7zm3-3h1v7h-1z"/>
<path d="M675 397h1v1h-1zM676 397h1v1h-1zM677 396h1v1h-1zM678 395h1v1h-1zM679 394h1v1h-1zM680 394h1v1h-1zM681 393h1v1h-1zM682 392h1v1h-1zM683 392h1v1h-1zM684 391h1v1h-1zM685 390h1v1h-1zM686 389h1v1h-1zM687 389h1v1h-1zM688 388h1v1h-1zM689 387h1v1h-1zM690 386h1v1h-1zM691 386h1v1h-1zM692 385h1v1h-1zM693 384h1v1h-1zM694 384h1v1h-1zM695 383h1v1h-1zM696 382h1v1h-1zM697 381h1v1h-1zM698 381h1v1h-1zM699 380h1v1h-1zM700 379h1v1h-1zM701 379h1v1h-1zM702 378h1v1h-1zM703 377h1v1h-1zM704 376h1v1h-1zM705 376h1v1h-1zM706 375h1v1h-1zM707 374h1v1h-1zM708 373h1v1h-1zM709 373h1v1h-1zM710 372h1v1h-1zM711 371h1v1h-1zM712 371h1v1h-1zM713 370h1v1h-1zM714 369h1v1h-1zM715 368h1v1h-1zM716 368h1v1h-1zM717 367h1v1h-1zM718 366h1v1h-1zM719 366h1v1h-1zM720 365h1v1h-1zM721 364h1v1h-1zM722 363h1v1h-1zM723 363h1v1h-1zM724 362h1v1h-1zM725 361h1v1h-1zM726 360h1v1h-1zM727 360h1v1h-1zM728 359h1v1h-1zM729 358h1v1h-1zM730 358h1v1h-1zM731 357h1v1h-1zM732 356h1v1h-1zM733 355h1v1h-1zM734 355h1v1h-1zM735 354h1v1h-1zM736 353h1v1h-1zM737 353h1v1h-1zM738 352h1v1h-1zM739 351h1v1h-1zM740 350h1v1h-1zM741 350h1v1h-1zM742 349h1v1h-1zM743 348h1v1h-1zM744 348h1v1h-1zM745 347h1v1h-1zM746 346h1v1h-1zM747 345h1v1h-1zM748 345h1v1h-1zM749 344h1v1h-1zM750 343h1v1h-1zM751 342h1v1h-1zM752 342h1v1h-1zM753 341h1v1h-1zM754 340h1v1h-1zM755 340h1v1h-1zM756 339h1v1h-1zM757 338h1v1h-1zM758 337h1v1h-1zM759 337h1v1h-1zM760 336h1v1h-1zM761 335h1v1h-1zM762 335h1v1h-1zM763 334h1v1h-1zM764 333h1v1h-1zM765 332h1v1h-1zM766 332h1v1h-1zM767 331h1v1h-1zM768 330h1v1h-1zM769 329h1v1h-1zM770 329h1v1h-1zM771 328h1v1h-1zM772 327h1v1h-1zM773 327h1v1h-1zM774 326h1v1h-1zM775 325h1v1h-1zM776 324h1v1h-1zM777 324h1v1h-1zM778 323h1v1h-1zM779 322h1v1h-1zM780 322h1v1h-1zM781 321h1v1h-1zM782 320h1v1h-1zM783 319h1v1h-1zM784 319h1v1h-1zM785 318h1v1h-1zM786 317h1v1h-1zM787 317h1v1h-1zM788 316h1v1h-1zM789 315h1v1h-1zM790 314h1v1h-1zM791 314h1v1h-1zM792 313h1v1h-1zM793 312h1v1h-1zM794 311h1v1h-1zM795 311h1v1h-1zM796 310h1v1h-1zM797 309h1v1h-1zM798 309h1v1h-1zM799 308h1v1h-1zM800 307h1v1h-1zM801 306h1v1h-1zM802 306h1v1h-1zM803 305h1v1h-1zM804 304h1v1h-1zM805 304h1v1h-1zM806 303h1v1h-1zM807 302h1v1h-1zM808 301h1v1h-1zM809 301h1v1h-1zM810 300h1v1h-1zM811 299h1v1h-1zM812 298h1v1h-1zM813 298h1v1h-1zM814 297h1v1h-1zM815 296h1v1h-1zM816 296h1v1h-1zM817 295h1v1h-1zM818 294h1v1h-1zM819 293h1v1h-1zM820 293h1v1h-1zM821 292h1v1h-1zM822 291h1v1h-1zM823 291h1v1h-1zM824 290h1v1h-1zM825 289h1v1h-1zM826 288h1v1h-1zM827 288h1v1h-1zM828 287h1v1h-1zM829 286h1v1h-1zM830 285h1v1h-1zM831 285h1v1h-1zM832 284h1v1h-1zM833 283h1v1h-1zM834 283h1v1h-1zM835 282h1v1h-1zM836 281h1v1h-1zM837 280h1v1h-1zM838 280h1v1h-1zM839 279h1v1h-1zM840 278h1v1h-1zM841 278h1v1h-1zM842 277h1v1h-1zM843 276h1v1h-1zM844 275h1v1h-1zM845 275h1v1h-1zM846 274h1v1h-1zM847 273h1v1h-1zM848 273h1v1h-1zM849 272h1v1h-1zM850 271h1v1h-1zM851 270h1v1h-1zM852 270h1v1h-1zM853 269h1v1h-1zM854 268h1v1h-1zM855 267h1v1h-1zM856 267h1v1h-1zM857 266h1v1h-1zM858 265h1v1h-1zM859 265h1v1h-1zM860 264h1v1h-1zM861 263h1v1h-1zM862 262h1v1h-1zM863 262h1v1h-1zM864 261h1v1h-1zM865 260h1v1h-1zM866 260h1v1h-1zM867 259h1v1h-1zM868 258h1v1h-1zM869 257h1v1h-1zM870 257h1v1h-1zM871 256h1v1h-1zM872 255h1v1h-1zM873 254h1v1h-1zM874 254h1v1h-1zM875 253h1v1h-1zM876 252h1v1h-1zM877 252h1v1h-1zM878 251h1v1h-1zM879 250h1v1h-1zM880 249h1v1h-1zM881 249h1v1h-1zM882 248h1v1h-1zM883 247h1v1h-1zM884 247h1v1h-1zM885 246h1v1h-1zM886 245h1v1h-1zM887 244h1v1h-1zM888 244h1v1h-1zM889 243h1v1h-1zM890 242h1v1h-1zM891 241h1v1h-1zM892 241h1v1h-1zM893 240h1v1h-1zM894 239h1v1h-1zM895 239h1v1h-1zM896 238h1v1h-1zM897 237h1v1h-1zM898 236h1v1h-1zM899 236h1v1h-1zM900 235h1v1h-1zM901 234h1v1h-1zM902 234h1v1h-1zM903 233h1v1h-1zM904 232h1v1h-1zM905 231h1v1h-1zM906 231h1v1h-1zM907 230h1v1h-1zM908 229h1v1h-1zM909 229h1v1h-1zM910 228h1v1h-1zM911 227h1v1h-1zM912 226h1v1h-1zM913 226h1v1h-1zM914 225h1v1h-1zM915 224h1v1h-1zM916 223h1v1h-1zM917 223h1v1h-1zM918 222h1v1h-1zM919 221h1v1h-1zM920 221h1v1h-1zM921 220h1v1h-1zM922 219h1v1h-1zM923 218h1v1h-1zM924 218h1v1h-1zM925 217h1v1h-1zM926 216h1v1h-1zM927 216h1v1h-1zM928 215h1v1h-1zM929 214h1v1h-1zM930 213h1v1h-1zM931 213h1v1h-1zM932 212h1v1h-1zM933 211h1v1h-1zM934 210h1v1h-1zM935 210h1v1h-1zM936 209h1v1h-1zM937 208h1v1h-1zM938 208h1v1h-1zM939 207h1v1h-1zM940 206h1v1h-1zM941 205h1v1h-1zM942 205h1v1h-1zM943 204h1v1h-1zM944 203h1v1h-1zM945 203h1v1h-1zM946 202h1v1h-1zM947 201h1v1h-1zM948 200h1v1h-1zM949 200h1v1h-1zM950 199h1v1h-1zM951 198h1v1h-1zM952 198h1v1h-1zM953 197h1v1h-1zM954 196h1v1h-1zM955 195h1v1h-1zM956 195h1v1h-1zM957 194h1v1h-1zM958 193h1v1h-1zM959 192h1v1h-1zM960 192h1v1h-1zM961 191h1v1h-1zM962 190h1v1h-1zM963 190h1v1h-1zM964 189h1v1h-1zM965 188h1v1h-1zM966 187h1v1h-1zM967 187h1v1h-1zM968 186h1v1h-1zM969 185h1v1h-1zM970 185h1v1h-1zM971 184h1v1h-1zM972 183h1v1h-1zM973 182h1v1h-1zM974 182h1v1h-1zM975 181h1v1h-1zM976 180h1v1h-1zM977 179h1v1h-1zM978 179h1v1h-1zM979 178h1v1h-1zM980 177h1v1h-1zM981 177h1v1h-1zM982 176h1v1h-1zM983 175h1v1h-1zM984 174h1v1h-1zM985 174h1v1h-1zM986 173h1v1h-1zM987 172h1v1h-1zM988 172h1v1h-1zM989 171h1v1h-1zM990 170h1v1h-1zM991 169h1v1h-1zM992 169h1v1h-1zM993 168h1v1h-1zM994 167h1v1h-1zM995 166h1v1h-1zM996 166h1v1h-1zM997 165h1v1h-1zM998 164h1v1h-1zM999 164h1v1h-1zM1000 163h1v1h-1zM1001 162h1v1h-1zM1002 161h1v1h-1zM1003 161h1v1h-1zM1004 160h1v1h-1zM1005 159h1v1h-1zM1006 159h1v1h-1zM1007 158h1v1h-1zM1008 157h1v1h-1zM1009 156h1v1h-1zM1010 156h1v1h-1zM1011 155h1v1h-1zM1012 154h1v1h-1zM1013 154h1v1h-1zM1014 153h1v1h-1zM1015 152h1v1h-1zM1016 151h1v1h-1zM1017 151h1v1h-1zM1018 150h1v1h-1zM1019 149h1v1h-1zM1020 148h1v1h-1zM1021 148h1v1h-1zM1022 147h1v1h-1zM1023 146h1v1h-1zM1024 146h1v1h-1zM1025 145h1v1h-1zM1026 144h1v1h-1zM1027 143h1v1h-1zM1028 143h1v1h-1zM1029 142h1v1h-1zM1030 141h1v1h-1zM1031 141h1v1h-1zM1032 140h1v1h-1zM1033 139h1v1h-1zM1034 138h1v1h-1zM1035 138h1v1h-1zM1036 137h1v1h-1zM1037 136h1v1h-1zM1038 135h1v1h-1zM1039 135h1v1h-1zM1040 134h1v1h-1zM1041 133h1v1h-1zM1042 133h1v1h-1zM1043 132h1v1h-1zM1044 131h1v1h-1zM1045 130h1v1h-1zM1046 130h1v1h-1zM1047 129h1v1h-1zM1048 128h1v1h-1zM1049 128h1v1h-1zM1050 127h1v1h-1zM1051 126h1v1h-1zM1052 125h1v1h-1zM1053 125h1v1h-1zM1054 124h1v1h-1zM1055 123h1v1h-1zM1056 122h1v1h-1zM1057 122h1v1h-1zM1058 121h1v1h-1zM1059 120h1v1h-1zM1060 120h1v1h-1zM1061 119h1v1h-1zM1062 118h1v1h-1zM1063 117h1v1h-1zM1064 117h1v1h-1zM1065 116h1v1h-1zM1066 115h1v1h-1zM1067 115h1v1h-1zM1068 114h1v1h-1zM1069 113h1v1h-1zM1070 112h1v1h-1zM1071 112h1v1h-1zM1072 111h1v1h-1zM1073 110h1v1h-1zM1074 110h1v1h-1zM1075 109h1v1h-1zM1076 108h1v1h-1zM1077 107h1v1h-1zM1078 107h1v1h-1zM1079 106h1v1h-1zM1080 105h1v1h-1zM1081 104h1v1h-1zM1082 104h1v1h-1zM1083 103h1v1h-1zM1084 102h1v1h-1zM1085 102h1v1h-1zM1086 101h1v1h-1zM1087 100h1v1h-1zM1088 99h1v1h-1zM1089 99h1v1h-1zM1090 98h1v1h-1zM1091 97h1v1h-1zM1092 97h1v1h-1zM1093 96h1v1h-1zM1094 95h1v1h-1zM1095 94h1v1h-1zM1096 94h1v1h-1zM1097 93h1v1h-1zM1098 92h1v1h-1zM1099 91h1v1h-1zM1100 91h1v1h-1zM1101 90h1v1h-1zM1102 89h1v1h-1zM1103 89h1v1h-1zM1104 88h1v1h-1zM1105 87h1v1h-1zM1106 86h1v1h-1zM1107 86h1v1h-1zM1108 85h1v1h-1zM1109 84h1v1h-1zM1110 84h1v1h-1zM1111 83h1v1h-1zM1112 82h1v1h-1zM1113 81h1v1h-1zM1114 81h1v1h-1zM1115 80h1v1h-1zM1116 79h1v1h-1zM1117 79h1v1h-1zM1118 78h1v1h-1zM1119 77h1v1h-1zM1120 76h1v1h-1zM1121 76h1v1h-1zM1122 75h1v1h-1zM1123 74h1v1h-1zM1124 73h1v1h-1zM1125 73h1v1h-1zM1126 72h1v1h-1zM1127 71h1v1h-1zM1128 71h1v1h-1zM1129 70h1v1h-1zM1130 69h1v1h-1zM1131 68h1v1h-1zM1132 68h1v1h-1zM1133 67h1v1h-1zM1134 66h1v1h-1zM1135 66h1v1h-1zM1136 65h1v1h-1zM1137 64h1v1h-1zM1138 63h1v1h-1zM1139 63h1v1h-1zM1140 62h1v1h-1zM1141 61h1v1h-1zM1142 60h1v1h-1zM1143 60h1v1h-1zM1144 59h1v1h-1zM1145 58h1v1h-1zM1146 58h1v1h-1zM1147 57h1v1h-1zM1148 56h1v1h-1zM1149 55h1v1h-1zM1150 55h1v1h-1zM1151 54h1v1h-1zM1152 53h1v1h-1zM1153 53h1v1h-1zM1154 52h1v1h-1zM1155 51h1v1h-1zM1156 50h1v1h-1zM1157 50h1v1h-1zM1158 49h1v1h-1zM1159 48h1v1h-1zM1160 47h1v1h-1zM1161 47h1v1h-1zM1162 46h1v1h-1zM1163 45h1v1h-1zM1164 45h1v1h-1zM1165 44h1v1h-1zM1166 43h1v1h-1zM1167 42h1v1h-1zM1168 42h1v1h-1z" fill="#009e73" shape-rendering="crispEdges"/>
<path d="M674.5 398.5L675.5 397.5L676.5 397.5L677.5 396.5L678.5 395.5L679.5 394.5L680.5 394.5L681.5 393.5L682.5 392.5L683.5 392.5L684.5 391.5L685.5 390.5L686.5 389.5L687.5 389.5L688.5 388.5L689.5 387.5L690.5 386.5L691.5 386.5L692.5 385.5L693.5 384.5L694.5 384.5L695.5 383.5L696.5 382.5L697.5 381.5L698.5 381.5L699.5 380.5L700.5 379.5L701.5 379.5L702.5 378.5L703.5 377.5L704.5 376.5L705.5 376.5L706.5 375.5L707.5 374.5L708.5 373.5L709.5 373.5L710.5 372.5L711.5 371.5L712.5 371.5L713.5 370.5L714.5 369.5L715.5 368.5L716.5 368.5L717.5 367.5L718.5 366.5L719.5 366.5L720.5 365.5L721.5 364.5L722.5 363.5L723.5 363.5L724.5 362.5L725.5 361.5L726.5 360.5L727.5 360.5L728.5 359.5L729.5 358.5L730.5 358.5L731.5 357.5L732.5 356.5L733.5 355.5L734.5 355.5L735.5 354.5L736.5 353.5L737.5 353.5L738.5 352.5L739.5 351.5L740.5 350.5L741.5 350.5L742.5 349.5L743.5 348.5L744.5 348.5L745.5 347.5L746.5 346.5L747.5 345.5L748.5 345.5L749.5 344.5L750.5 343.5L751.5 342.5L752.5 342.5L753.5 341.5L754.5 340.5L755.5 340.5L756.5 339.5L757.5 338.5L758.5 337.5L759.5 337.5L760.5 336.5L761.5 335.5L762.5 335.5L763.5 334.5L764.5 333.5L765.5 332.5L766.5 332.5L767.5 331.5L768.5 330.5L769.5 329.5L770.5 329.5L771.5 328.5L772.5 327.5L773.5 327.5L774.5 326.5L775.5 325.5L776.5 324.5L777.5 324.5L778.5 323.5L779.5 322.5L780.5 322.5L781.5 321.5L782.5 320.5L783.5 319.5L784.5 319.5L785.5 318.5L786.5 317.5L787.5 317.5L788.5 316.5L789.5 315.5L790.5 314.5L791.5 314.5L792.5 313.5L793.5 312.5L794.5 311.5L795.5 311.5L796.5 310.5L797.5 309.5L798.5 309.5L799.5 308.5L800.5 307.5L801.5 306.5L802.5 306.5L803.5 305.5L804.5 304.5L805.5 304.5L806.5 303.5L807.5 302.5L808.5 301.5L809.5 301.5L810.5 300.5L811.5 299.5L812.5 298.5L813.5 298.5L814.5 297.5L815.5 296.5L816.5 296.5L817.5 295.5L818.5 294.5L819.5 293.5L820.5 293.5L821.5 292.5L822.5 291.5L823.5 291.5L824.5 290.5L825.5 289.5L826.5 288.5L827.5 288.5L828.5 287.5L829.5 286.5L830.5 285.5L831.5 285.5L832.5 284.5L833.5 283.5L834.5 283.5L835.5 282.5L836.5 281.5L837.5 280.5L838.5 280.5L839.5 279.5L840.5 278.5L841.5 278.5L842.5 277.5L843.5 276.5L844.5 275.5L845.5 275.5L846.5 274.5L847.5 273.5L848.5 273.5L849.5 272.5L850.5 271.5L851.5 270.5L852.5 270.5L853.5 269.5L854.5 268.5L855.5 267.5L856.5 267.5L857.5 266.5L858.5 265.5L859.5 265.5L860.5 264.5L861.5 263.5L862.5 262.5L863.5 262.5L864.5 261.5L865.5 260.5L866.5 260.5L867.5 259.5L868.5 258.5L869.5 257.5L870.5 257.5L871.5 256.5L872.5 255.5L873.5 254.5L874.5 254.5L875.5 253.5L876.5 252.5L877.5 252.5L878.5 251.5L879.5 250.5L880.5 249.5L881.5 249.5L882.5 248.5L883.5 247.5L884.5 247.5L885.5 246.5L886.5 245.5L887.5 244.5L888.5 244.5L889.5 243.5L890.5 242.5L891.5 241.5L892.5 241.5L893.5 240.5L894.5 239.5L895.5 239.5L896.5 238.5L897.5 237.5L898.5 236.5L899.5 236.5L900.5 235.5L901.5 234.5L902.5 234.5L903.5 233.5L904.5 232.5L905.5 231.5L906.5 231.5L907.5 230.5L908.5 229.5L909.5 229.5L910.5 228.5L911.5 227.5L912.5 226.5L913.5 226.5L914.5 225.5L915.5 224.5L916.5 223.5L917.5 223.5L918.5 222.5L919.5 221.5L920.5 221.5L921.5 220.5L922.5 219.5L923.5 218.5L924.5 218.5L925.5 217.5L926.5 216.5L927.5 216.5L928.5 215.5L929.5 214.5L930.5 213.5L931.5 213.5L932.5 212.5L933.5 211.5L934.5 210.5L935.5 210.5L936.5 209.5L937.5 208.5L938.5 208.5L939.5 207.5L940.5 206.5L941.5 205.5L942.5 205.5L943.5 204.5L944.5 203.5L945.5 203.5L946.5 202.5L947.5 201.5L948.5 200.5L949.5 200.5L950.5 199.5L951.5 198.5L952.5 198.5L953.5 197.5L954.5 196.5L955.5 195.5L956.5 195.5L957.5 194.5L958.5 193.5L959.5 192.5L960.5 192.5L961.5 191.5L962.5 190.5L963.5 190.5L964.5 189.5L965.5 188.5L966.5 187.5L967.5 187.5L968.5 186.5L969.5 185.5L970.5 185.5L971.5 184.5L972.5 183.5L973.5 182.5L974.5 182.5L975.5 181.5L976.5 180.5L977.5 179.5L978.5 179.5L979.5 178.5L980.5 177.5L981.5 177.5L982.5 176.5L983.5 175.5L984.5 174.5L985.5 174.5L986.5 173.5L987.5 172.5L988.5 172.5L989.5 171.5L990.5 170.5L991.5 169.5L992.5 169.5L993.5 168.5L994.5 167.5L995.5 166.5L996.5 166.5L997.5 165.5L998.5 164.5L999.5 164.5L1000.5 163.5L1001.5 162.5L1002.5 161.5L1003.5 161.5L1004.5 160.5L1005.5 159.5L1006.5 159.5L1007.5 158.5L1008.5 157.5L1009.5 156.5L1010.5 156.5L1011.5 155.5L1012.5 154.5L1013.5 154.5L1014.5 153.5L1015.5 152.5L1016.5 151.5L1017.5 151.5L1018.5 150.5L1019.5 149.5L1020.5 148.5L1021.5 148.5L1022.5 147.5L1023.5 146.5L1024.5 146.5L1025.5 145.5L1026.5 144.5L1027.5 143.5L1028.5 143.5L1029.5 142.5L1030.5 141.5L1031.5 141.5L1032.5 140.5L1033.5 139.5L1034.5 138.5L1035.5 138.5L1036.5 137.5L1037.5 136.5L1038.5 135.5L1039.5 135.5L1040.5 134.5L1041.5 133.5L1042.5 133.5L1043.5 132.5L1044.5 131.5L1045.5 130.5L1046.5 130.5L1047.5 129.5L1048.5 128.5L1049.5 128.5L1050.5 127.5L1051.5 126.5L1052.5 125.5L1053.5 125.5L1054.5 124.5L1055.5 123.5L1056.5 122.5L1057.5 122.5L1058.5 121.5L1059.5 120.5L1060.5 120.5L1061.5 119.5L1062.5 118.5L1063.5 117.5L1064.5 117.5L1065.5 116.5L1066.5 115.5L1067.5 115.5L1068.5 114.5L1069.5 113.5L1070.5 112.5L1071.5 112.5L1072.5 111.5L1073.5 110.5L1074.5 110.5L1075.5 109.5L1076.5 108.5L1077.5 107.5L1078.5 107.5L1079.5 106.5L1080.5 105.5L1081.5 104.5L1082.5 104.5L1083.5 103.5L1084.5 102.5L1085.5 102.5L1086.5 101.5L1087.5 100.5L1088.5 99.5L1089.5 99.5L1090.5 98.5L1091.5 97.5L1092.5 97.5L1093.5 96.5L1094.5 95.5L1095.5 94.5L1096.5 94.5L1097.5 93.5L1098.5 92.5L1099.5 91.5L1100.5 91.5L1101.5 90.5L1102.5 89.5L1103.5 89.5L1104.5 88.5L1105.5 87.5L1106.5 86.5L1107.5 86.5L1108.5 85.5L1109.5 84.5L1110.5 84.5L1111.5 83.5L1112.5 82.5L1113.5 81.5L1114.5 81.5L1115.5 80.5L1116.5 79.5L1117.5 79.5L1118.5 78.5L1119.5 77.5L1120.5 76.5L1121.5 76.5L1122.5 75.5L1123.5 74.5L1124.5 73.5L1125.5 73.5L1126.5 72.5L1127.5 71.5L1128.5 71.5L1129.5 70.5L1130.5 69.5L1131.5 68.5L1132.5 68.5L1133.5 67.5L1134.5 66.5L1135.5 66.5L1136.5 65.5L1137.5 64.5L1138.5 63.5L1139.5 63.5L1140.5 62.5L1141.5 61.5L1142.5 60.5L1143.5 60.5L1144.5 59.5L1145.5 58.5L1146.5 58.5L1147.5 57.5L1148.5 56.5L1149.5 55.5L1150.5 55.5L1151.5 54.5L1152.5 53.5L1153.5 53.5L1154.5 52.5L1155.5 51.5L1156.5 50.5L1157.5 50.5L1158.5 49.5L1159.5 48.5L1160.5 47.5L1161.5 47.5L1162.5 46.5L1163.5 45.5L1164.5 45.5L1165.5 44.5L1166.5 43.5L1167.5 42.5L1168.5 42.5L1169.5 41.5" stroke="#009e73" stroke-width="1" fill="none" stroke-linejoin="round"/>
<path d="M99.5 840.0V830.0M99.5 481.0V491.0M175.5 840.0V830.0M175.5 481.0V491.0M251.5 840.0V830.0M251.5 481.0V491.0M327.5 840.0V830.0M327.5 481.0V491.0M402.5 840.0V830.0M402.5 481.0V491.0M478.5 840.0V830.0M478.5 481.0V491.0M554.5 840.0V830.0M554.5 481.0V491.0M84.0 526.5H94.0M570.0 526.5H560.0M84.0 570.5H94.0M570.0 570.5H560.0M84.0 615.5H94.0M570.0 615.5H560.0M84.0 660.5H94.0M570.0 660.5H560.0M84.0 705.5H94.0M570.0 705.5H560.0M84.0 749.5H94.0M570.0 749.5H560.0M84.0 794.5H94.0M570.0 794.5H560.0" stroke="#000" stroke-width="1" fill="none" shape-rendering="crispEdges"/>
<rect x="84.5" y="481.5" width="485.0" height="358.0" fill="none" stroke="#000" stroke-width="1" shape-rendering="crispEdges"/>
<text x="99.5" y="862.1" text-anchor="middle">0</text>
<text x="175.5" y="862.1" text-anchor="middle">1</text>
<text x="251.5" y="862.1" text-anchor="middle">2</text>
<text x="327.5" y="862.1" text-anchor="middle">3</text>
<text x="402.5" y="862.1" text-anchor="middle">4</text>
<text x="478.5" y="862.1" text-anchor="middle">5</text>
<text x="554.5" y="862.1" text-anchor="middle">6</text>
<text x="70.3" y="485.0" text-anchor="end">1.4</text>
<text x="70.3" y="530.0" text-anchor="end">1.3</text>
<text x="70.3" y="574.0" text-anchor="end">1.2</text>
<text x="70.3" y="619.0" text-anchor="end">1.1</text>
<text x="70.3" y="664.0" text-anchor="end">1</text>
<text x="70.3" y="709.0" text-anchor="end">0.9</text>
<text x="70.3" y="753.0" text-anchor="end">0.8</text>
<text x="70.3" y="798.0" text-anchor="end">0.7</text>
<text x="70.3" y="843.0" text-anchor="end">0.6</text>
<text x="323.7" y="889.5" text-anchor="middle">t (anni) [da prima sessione utile]</text>
<text transform="translate(19.6 661.5) rotate(-90)" text-anchor="middle">Voto/Media voti</text>
<path fill="#9400d3" d="M96 578h5v5h-5zm-1 2h7v1h-7zm3-3h1v7h-1zM96 604h5v5h-5zm-1 2h7v1h-7zm3-3h1v7h-1zM96 613h5v5h-5zm-1 2h7v1h-7zm3-3h1v7h-1zM96 628h5v5h-5zm-1 2h7v1h-7zm3-3h1v7h-1zM97 607h5v5h-5zm-1 2h7v1h-7zm3-3h1v7h-1zM97 616h5v5h-5zm-1 2h7v1h-7zm3-3h1v7h-1zM97 648h5v5h-5zm-1 2h7v1h-7zm3-3h1v7h-1zM97 650h5v5h-5zm-1 2h7v1h-7zm3-3h1v7h-1zM97 654h5v5h-5zm-1 2h7v1h-7zm3-3h1v7h-1zM97 657h5v5h-5zm-1 2h7v1h-7zm3-3h1v7h-1zM97 660h5v5h-5zm-1 2h7v1h-7zm3-3h1v7h-1zM97 694h5v5h-5zm-1 2h7v1h-7zm3-3h1v7h-1zM98 663h5v5h-5zm-1 2h7v1h-7zm3-3h1v7h-1zM98 688h5v5h-5zm-1 2h7v1h-7zm3-3h1v7h-1zM99 584h5v5h-5zm-1 2h7v1h-7zm3-3h1v7h-1zM99 598h5v5h-5zm-1 2h7v1h-7zm3-3h1v7h-1zM99 601h5v5h-5zm-1 2h7v1h-7zm3-3h1v7h-1zM99 603h5v5h-5zm-1 2h7v1h-7zm3-3h1v7h-1zM99 606h5v5h-5zm-1 2h7v1h-7zm3-3h1v7h-1zM99 608h5v5h-5zm-1 2h7v1h-7zm3-3h1v7h-1zM99 611h5v5h-5zm-1 2h7v1h-7zm3-3h1v7h-1zM99 613h5v5h-5zm-1 2h7v1h-7zm3-3h1v7h-1zM99 616h5v5h-5zm-1 2h7v1h-7zm3-3h1v7h-1zM99 618h5v5h-5zm-1 2h7v1h-7zm3-3h1v7h-1zM99 621h5v5h-5zm-1 2h7v1h-7zm3-3h1v7h-1zM99 623h5v5h-5zm-1 2h7v1h-7zm3-3h1v7h-1zM99 626h5v5h-5zm-1 2h7v1h-7zm3-3h1v7h-1zM99 628h5v5h-5zm-1 2h7v1h-7zm3-3h1v7h-1zM99 631h5v5h-5zm-1 2h7v1h-7zm3-3h1v7h-1zM99 633h5v5h-5zm-1 2h7v1h-7zm3-3h1v7h-1zM99 636h5v5h-5zm-1 2h7v1h-7zm3-3h1v7h-1zM99 638h5v5h-5zm-1 2h7v1h-7zm3-3h1v7h-1zM99 641h5v5h-5zm-1 2h7v1h-7zm3-3h1v7h-1zM99 643h5v5h-5zm-1 2h7v1h-7zm3-3h1v7h-1zM99 646h5v5h-5zm-1 2h7v1h-7zm3-3h1v7h-1zM99 648h5v5h-5zm-1 2h7v1h-7zm3-3h1v7h-1zM99 651h5v5h-5zm-1 2h7v1h-7zm3-3h1v7h-1zM99 653h5v5h-5zm-1 2h7v1h-7zm3-3h1v7h-1zM99 656h5v5h-5zm-1 2h7v1h-7zm3-3h1v7h-1zM99 658h5v5h-5zm-1 2h7v1h-7zm3-3h1v7h-1zM99 661h5v5h-5zm-1 2h7v1h-7zm3-3h1v7h-1zM99 676h5v5h-5zm-1 2h7v1h-7zm3-3h1v7h-1zM99 678h5v5h-5zm-1 2h7v1h-7zm3-3h1v7h-1zM99 681h5v5h-5zm-1 2h7v1h-7zm3-3h1v7h-1zM99 683h5v5h-5zm-1 2h7v1h-7zm3-3h1v7h-1zM99 686h5v5h-5zm-1 2h7v1h-7zm3-3h1v7h-1zM99 688h5v5h-5zm-1 2h7v1h-7zm3-3h1v7h-1zM99 691h5v5h-5zm-1 2h7v1h-7zm3-3h1v7h-1zM99 693h5v5h-5zm-1 2h7v1h-7zm3-3h1v7h-1zM99 696h5v5h-5zm-1 2h7v1h-7zm3-3h1v7h-1zM99 791h5v5h-5zm-1 2h7v1h-7zm3-3h1v7h-1zM100 663h5v5h-5zm-1 2h7v1h-7zm3-3h1v7h-1zM100 666h5v5h-5zm-1 2h7v1h-7zm3-3h1v7h-1zM100 668h5v5h-5zm-1 2h7v1h-7zm3-3h1v7h-1zM100 671h5v5h-5zm-1 2h7v1h-7zm3-3h1v7h-1zM100 673h5v5h-5zm-1 2h7v1h-7zm3-3h1v7h-1zM100 692h5v5h-5zm-1 2h7v1h-7zm3-3h1v7h-1zM101 714h5v5h-5zm-1 2h7v1h-7zm3-3h1v7h-1zM102 545h5v5h-5zm-1 2h7v1h-7zm3-3h1v7h-1zM102 564h5v5h-5zm-1 2h7v1h-7zm3-3h1v7h-1zM102 568h5v5h-5zm-1 2h7v1h-7zm3-3h1v7h-1zM102 576h5v5h-5zm-1 2h7v1h-7zm3-3h1v7h-1zM102 596h5v5h-5zm-1 2h7v1h-7zm3-3h1v7h-1zM102 598h5v5h-5zm-1 2h7v1h-7zm3-3h1v7h-1zM102 601h5v5h-5zm-1 2h7v1h-7zm3-3h1v7h-1zM102 603h5v5h-5zm-1 2h7v1h-7zm3-3h1v7h-1zM102 606h5v5h-5zm-1 2h7v1h-7zm3-3h1v7h-1zM102 608h5v5h-5zm-1 2h7v1h-7zm3-3h1v7h-1zM102 611h5v5h-5zm-1 2h7v1h-7zm3-3h1v7h-1zM102 613h5v5h-5zm-1 2h7v1h-7zm3-3h1v7h-1zM102 616h5v5h-5zm-1 2h7v1h-7zm3-3h1v7h-1zM102 618h5v5h-5zm-1 2h7v1h-7zm3-3h1v7h-1zM102 621h5v5h-5zm-1 2h7v1h-7zm3-3h1v7h-1zM102 623h5v5h-5zm-1 2h7v1h-7zm3-3h1v7h-1zM102 626h5v5h-5zm-1 2h7v1h-7zm3-3h1v7h-1zM102 628h5v5h-5zm-1 2h7v1h-7zm3-3h1v7h-1zM102 631h5v5h-5zm-1 2h7v1h-7zm3-3h1v7h-1zM102 633h5v5h-5zm-1 2h7v1h-7zm3-3h1v7h-1zM102 636h5v5h-5zm-1 2h7v1h-7zm3-3h1v7h-1zM102 638h5v5h-5zm-1 2h7v1h-7zm3-3h1v7h-1zM102 641h5v5h-5zm-1 2h7v1h-7zm3-3h1v7h-1zM102 643h5v5h-5zm-1 2h7v1h-7zm3-3h1v7h-1zM102 646h5v5h-5zm-1 2h7v1h-7zm3-3h1v7h-1zM102 648h5v5h-5zm-1 2h7v1h-7zm3-3h1v7h-1zM102 651h5v5h-5zm-1 2h7v1h-7zm3-3h1v7h-1zM102 653h5v5h-5zm-1 2h7v1h-7zm3-3h1v7h-1zM102 656h5v5h-5zm-1 2h7v1h-7zm3-3h1v7h-1zM102 658h5v5h-5zm-1 2h7v1h-7zm3-3h1v7h-1zM102 661h5v5h-5zm-1 2h7v1h-7zm3-3h1v7h-1zM102 663h5v5h-5zm-1 2h7v1h-7zm3-3h1v7h-1zM102 666h5v5h-5zm-1 2h7v1h-7zm3-3h1v7h-1zM102 668h5v5h-5zm-1 2h7v1h-7zm3-3h1v7h-1zM102 671h5v5h-5zm-1 2h7v1h-7zm3-3h1v7h-1zM102 673h5v5h-5zm-1 2h7v1h-7zm3-3h1v7h-1zM102 676h5v5h-5zm-1 2h7v1h-7zm3-3h1v7h-1zM102 678h5v5h-5zm-1 2h7v1h-7zm3-3h1v7h-1zM102 681h5v5h-5zm-1 2h7v1h-7zm3-3h1v7h-1zM102 683h5v5h-5zm-1 2h7v1h-7zm3-3h1v7h-1zM102 686h5v5h-5zm-1 2h7v1h-7zm3-3h1v7h-1zM102 688h5v5h-5zm-1 2h7v1h-7zm3-3h1v7h-1zM102 691h5v5h-5zm-1 2h7v1h-7zm3-3h1v7h-1zM102 693h5v5h-5zm-1 2h7v1h-7zm3-3h1v7h-1zM102 696h5v5h-5zm-1 2h7v1h-7zm3-3h1v7h-1zM102 717h5v5h-5zm-1 2h7v1h-7zm3-3h1v7h-1zM102 735h5v5h-5zm-1 2h7v1h-7zm3-3h1v7h-1zM103 543h5v5h-5zm-1 2h7v1h-7zm3-3h1v7h-1zM103 699h5v5h-5zm-1 2h7v1h-7zm3-3h1v7h-1zM103 707h5v5h-5zm-1 2h7v1h-7zm3-3h1v7h-1zM103 712h5v5h-5zm-1 2h7v1h-7zm3-3h1v7h-1zM104 592h5v5h-5zm-1 2h7v1h-7zm3-3h1v7h-1zM104 596h5v5h-5zm-1 2h7v1h-7zm3-3h1v7h-1zM104 598h5v5h-5zm-1 2h7v1h-7zm3-3h1v7h-1zM104 601h5v5h-5zm-1 2h7v1h-7zm3-3h1v7h-1zM104 603h5v5h-5zm-1 2h7v1h-7zm3-3h1v7h-1zM104 606h5v5h-5zm-1 2h7v1h-7zm3-3h1v7h-1zM104 608h5v5h-5zm-1 2h7v1h-7zm3-3h1v7h-1zM104 611h5v5h-5zm-1 2h7v1h-7zm3-3h1v7h-1zM104 613h5v5h-5zm-1 2h7v1h-7zm3-3h1v7h-1zM104 616h5v5h-5zm-1 2h7v1h-7zm3-3h1v7h-1zM104 618h5v5h-5zm-1 2h7v1h-7zm3-3h1v7h-1zM104 621h5v5h-5zm-1 2h7v1h-7zm3-3h1v7h-1zM104 623h5v5h-5zm-1 2h7v1h-7zm3-3h1v7h-1zM104 626h5v5h-5zm-1 2h7v1h-7zm3-3h1v7h-1zM104 628h5v5h-5zm-1 2h7v1h-7zm3-3h1v7h-1zM104 631h5v5h-5zm-1 2h7v1h-7zm3-3h1v7h-1zM104 633h5v5h-5zm-1 2h7v1h-7zm3-3h1v7h-1zM104 636h5v5h-5zm-1 2h7v1h-7zm3-3h1v7h-1zM104 638h5v5h-5zm-1 2h7v1h-7zm3-3h1v7h-1zM104 641h5v5h-5zm-1 2h7v1h-7zm3-3h1v7h-1zM104 643h5v5h-5zm-1 2h7v1h-7zm3-3h1v7h-1zM104 646h5v5h-5zm-1 2h7v1h-7zm3-3h1v7h-1zM104 648h5v5h-5zm-1 2h7v1h-7zm3-3h1v7h-1zM104 651h5v5h-5zm-1 2h7v1h-7zm3-3h1v7h-1zM104 653h5v5h-5zm-1 2h7v1h-7zm3-3h1v7h-1zM104 656h5v5h-5zm-1 2h7v1h-7zm3-3h1v7h-1zM104 658h5v5h-5zm-1 2h7v1h-7zm3-3h1v7h-1zM104 661h5v5h-5zm-1 2h7v1h-7zm3-3h1v7h-1zM104 663h5v5h-5zm-1 2h7v1h-7zm3-3h1v7h-1zM104 666h5v5h-5zm-1 2h7v1h-7zm3-3h1v7h-1zM104 668h5v5h-5zm-1 2h7v1h-7zm3-3h1v7h-1zM104 671h5v5h-5zm-1 2h7v1h-7zm3-3h1v7h-1zM104 673h5v5h-5zm-1 2h7v1h-7zm3-3h1v7h-1zM104 676h5v5h-5zm-1 2h7v1h-7zm3-3h1v7h-1zM104 678h5v5h-5zm-1 2h7v1h-7zm3-3h1v7h-1zM104 681h5v5h-5zm-1 2h7v1h-7zm3-3h1v7h-1zM104 683h5v5h-5zm-1 2h7v1h-7zm3-3h1v7h-1zM104 686h5v5h-5zm-1 2h7v1h-7zm3-3h1v7h-1zM104 688h5v5h-5zm-1 2h7v1h-7zm3-3h1v7h-1zM104 691h5v5h-5zm-1 2h7v1h-7zm3-3h1v7h-1zM104 693h5v5h-5zm-1 2h7v1h-7zm3-3h1v7h-1zM104 696h5v5h-5zm-1 2h7v1h-7zm3-3h1v7h-1zM104 703h5v5h-5zm-1 2h7v1h-7zm3-3h1v7h-1zM104 716h5v5h-5zm-1 2h7v1h-7zm3-3h1v7h-1zM104 737h5v5h-5zm-1 2h7v1h-7zm3-3h1v7h-1zM105 567h5v5h-5zm-1 2h7v1h-7zm3-3h1v7h-1zM105 594h5v5h-5zm-1 2h7v1h-7zm3-3h1v7h-1zM105 596h5v5h-5zm-1 2h7v1h-7zm3-3h1v7h-1zM105 598h5v5h-5zm-1 2h7v1h-7zm3-3h1v7h-1zM105 601h5v5h-5zm-1 2h7v1h-7zm3-3h1v7h-1zM105 603h5v5h-5zm-1 2h7v1h-7zm3-3h1v7h-1zM105 606h5v5h-5zm-1 2h7v1h-7zm3-3h1v7h-1zM105 608h5v5h-5zm-1 2h7v1h-7zm3-3h1v7h-1zM105 611h5v5h-5zm-1 2h7v1h-7zm3-3h1v7h-1zM105 613h5v5h-5zm-1 2h7v1h-7zm3-3h1v7h-1zM105 616h5v5h-5zm-1 2h7v1h-7zm3-3h1v7h-1zM105 618h5v5h-5zm-1 2h7v1h-7zm3-3h1v7h-1zM105 621h5v5h-5zm-1 2h7v1h-7zm3-3h1v7h-1zM105 623h5v5h-5zm-1 2h7v1h-7zm3-3h1v7h-1zM105 626h5v5h-5zm-1 2h7v1h-7zm3-3h1v7h-1zM105 628h5v5h-5zm-1 2h7v1h-7zm3-3h1v7h-1zM105 631h5v5h-5zm-1 2h7v1h-7zm3-3h1v7h-1zM105 633h5v5h-5zm-1 2h7v1h-7zm3-3h1v7h-1zM105 636h5v5h-5zm-1 2h7v1h-7zm3-3h1v7h-1zM105 638h5v5h-5zm-1 2h7v1h-7zm3-3h1v7h-1zM105 641h5v5h-5zm-1 2h7v1h-7zm3-3h1v7h-1zM105 643h5v5h-5zm-1 2h7v1h-7zm3-3h1v7h-1zM105 646h5v5h-5zm-1 2h7v1h-7zm3-3h1v7h-1zM105 648h5v5h-5zm-1 2h7v1h-7zm3-3h1v7h-1zM105 651h5v5h-5zm-1 2h7v1h-7zm3-3h1v7h-1zM105 653h5v5h-5zm-1 2h7v1h-7zm3-3h1v7h-1zM105 656h5v5h-5zm-1 2h7v1h-7zm3-3h1v7h-1zM105 658h5v5h-5zm-1 2h7v1h-7zm3-3h1v7h-1zM105 661h5v5h-5zm-1 2h7v1h-7zm3-3h1v7h-1zM105 663h5v5h-5zm-1 2h7v1h-7zm3-3h1v7h-1zM105 666h5v5h-5zm-1 2h7v1h-7zm3-3h1v7h-1zM105 668h5v5h-5zm-1 2h7v1h-7zm3-3h1v7h-1zM105 671h5v5h-5zm-1 2h7v1h-7zm3-3h1v7h-1zM105 673h5v5h-5zm-1 2h7v1h-7zm3-3h1v7h-1zM105 676h5v5h-5zm-1 2h7v1h-7zm3-3h1v7h-1zM105 678h5v5h-5zm-1 2h7v1h-7zm3-3h1v7h-1zM105 681h5v5h-5zm-1 2h7v1h-7zm3-3h1v7h-1zM105 683h5v5h-5zm-1 2h7v1h-7zm3-3h1v7h-1zM105 686h5v5h-5zm-1 2h7v1h-7zm3-3h1v7h-1zM105 688h5v5h-5zm-1 2h7v1h-7zm3-3h1v7h-1zM105 691h5v5h-5zm-1 2h7v1h-7zm3-3h1v7h-1zM105 693h5v5h-5zm-1 2h7v1h-7zm3-3h1v7h-1zM105 696h5v5h-5zm-1 2h7v1h-7zm3-3h1v7h-1zM105 699h5v5h-5zm-1 2h7v1h-7zm3-3h1v7h-1zM105 713h5v5h-5zm-1 2h7v1h-7zm3-3h1v7h-1zM106 557h5v5h-5zm-1 2h7v1h-7zm3-3h1v7h-1zM106 583h5v5h-5zm-1 2h7v1h-7zm3-3h1v7h-1zM106 590h5v5h-5zm-1 2h7v1h-7zm3-3h1v7h-1zM106 654h5v5h-5zm-1 2h7v1h-7zm3-3h1v7h-1zM106 656h5v5h-5zm-1 2h7v1h-7zm3-3h1v7h-1zM106 659h5v5h-5zm-1 2h7v1h-7zm3-3h1v7h-1zM106 661h5v5h-5zm-1 2h7v1h-7zm3-3h1v7h-1zM106 664h5v5h-5zm-1 2h7v1h-7zm3-3h1v7h-1zM106 666h5v5h-5zm-1 2h7v1h-7zm3-3h1v7h-1zM106 669h5v5h-5zm-1 2h7v1h-7zm3-3h1v7h-1zM106 671h5v5h-5zm-1 2h7v1h-7zm3-3h1v7h-1zM106 674h5v5h-5zm-1 2h7v1h-7zm3-3h1v7h-1zM106 676h5v5h-5zm-1 2h7v1h-7zm3-3h1v7h-1zM106 679h5v5h-5zm-1 2h7v1h-7zm3-3h1v7h-1zM106 681h5v5h-5zm-1 2h7v1h-7zm3-3h1v7h-1zM106 684h5v5h-5zm-1 2h7v1h-7zm3-3h1v7h-1zM106 686h5v5h-5zm-1 2h7v1h-7zm3-3h1v7h-1zM106 689h5v5h-5zm-1 2h7v1h-7zm3-3h1v7h-1zM106 691h5v5h-5zm-1 2h7v1h-7zm3-3h1v7h-1zM106 694h5v5h-5zm-1 2h7v1h-7zm3-3h1v7h-1zM106 696h5v5h-5zm-1 2h7v1h-7zm3-3h1v7h-1zM106 705h5v5h-5zm-1 2h7v1h-7zm3-3h1v7h-1zM106 708h5v5h-5zm-1 2h7v1h-7zm3-3h1v7h-1zM106 710h5v5h-5zm-1 2h7v1h-7zm3-3h1v7h-1zM106 727h5v5h-5zm-1 2h7v1h-7zm3-3h1v7h-1zM106 739h5v5h-5zm-1 2h7v1h-7zm3-3h1v7h-1zM106 751h5v5h-5zm-1 2h7v1h-7zm3-3h1v7h-1zM107 591h5v5h-5zm-1 2h7v1h-7zm3-3h1v7h-1zM107 620h5v5h-5zm-1 2h7v1h-7zm3-3h1v7h-1zM107 623h5v5h-5zm-1 2h7v1h-7zm3-3h1v7h-1zM107 639h5v5h-5zm-1 2h7v1h-7zm3-3h1v7h-1zM107 646h5v5h-5zm-1 2h7v1h-7zm3-3h1v7h-1zM107 682h5v5h-5zm-1 2h7v1h-7zm3-3h1v7h-1zM107 701h5v5h-5zm-1 2h7v1h-7zm3-3h1v7h-1zM107 714h5v5h-5zm-1 2h7v1h-7zm3-3h1v7h-1zM107 718h5v5h-5zm-1 2h7v1h-7zm3-3h1v7h-1zM116 647h5v5h-5zm-1 2h7v1h-7zm3-3h1v7h-1zM116 660h5v5h-5zm-1 2h7v1h-7zm3-3h1v7h-1zM116 716h5v5h-5zm-1 2h7v1h-7zm3-3h1v7h-1zM116 745h5v5h-5zm-1 2h7v1h-7zm3-3h1v7h-1zM117 591h5v5h-5zm-1 2h7v1h-7zm3-3h1v7h-1zM117 631h5v5h-5zm-1 2h7v1h-7zm3-3h1v7h-1zM117 634h5v5h-5zm-1 2h7v1h-7zm3-3h1v7h-1zM117 649h5v5h-5zm-1 2h7v1h-7zm3-3h1v7h-1zM117 668h5v5h-5zm-1 2h7v1h-7zm3-3h1v7h-1zM117 687h5v5h-5zm-1 2h7v1h-7zm3-3h1v7h-1zM117 736h5v5h-5zm-1 2h7v1h-7zm3-3h1v7h-1zM118 652h5v5h-5zm-1 2h7v1h-7zm3-3h1v7h-1zM119 692h5v5h-5zm-1 2h7v1h-7zm3-3h1v7h-1zM119 736h5v5h-5zm-1 2h7v1h-7zm3-3h1v7h-1zM131 723h5v5h-5zm-1 2h7v1h-7zm3-3h1v7h-1zM142 620h5v5h-5zm-1 2h7v1h-7zm3-3h1v7h-1zM142 706h5v5h-5zm-1 2h7v1h-7zm3-3h1v7h-1zM142 715h5v5h-5zm-1 2h7v1h-7zm3-3h1v7h-1zM143 692h5v5h-5zm-1 2h7v1h-7zm3-3h1v7h-1zM148 679h5v5h-5zm-1 2h7v1h-7zm3-3h1v7h-1zM148 768h5v5h-5zm-1 2h7v1h-7zm3-3h1v7h-1zM149 759h5v5h-5zm-1 2h7v1h-7zm3-3h1v7h-1zM150 648h5v5h-5zm-1 2h7v1h-7zm3-3h1v7h-1zM150 674h5v5h-5zm-1 2h7v1h-7zm3-3h1v7h-1zM150 746h5v5h-5zm-1 2h7v1h-7zm3-3h1v7h-1zM151 665h5v5h-5zm-1 2h7v1h-7zm3-3h1v7h-1zM172 546h5v5h-5zm-1 2h7v1h-7zm3-3h1v7h-1zM172 638h5v5h-5zm-1 2h7v1h-7zm3-3h1v7h-1zM174 627h5v5h-5zm-1 2h7v1h-7zm3-3h1v7h-1zM176 681h5v5h-5zm-1 2h7v1h-7zm3-3h1v7h-1zM176 701h5v5h-5zm-1 2h7v1h-7zm3-3h1v7h-1zM178 574h5v5h-5zm-1 2h7v1h-7zm3-3h1v7h-1zM178 623h5v5h-5zm-1 2h7v1h-7zm3-3h1v7h-1zM178 669h5v5h-5zm-1 2h7v1h-7zm3-3h1v7h-1zM179 686h5v5h-5zm-1 2h7v1h-7zm3-3h1v7h-1zM179 690h5v5h-5zm-1 2h7v1h-7zm3-3h1v7h-1zM181 649h5v5h-5zm-1 2h7v1h-7zm3-3h1v7h-1zM181 664h5v5h-5zm-1 2h7v1h-7zm3-3h1v7h-1zM182 627h5v5h-5zm-1 2h7v1h-7zm3-3h1v7h-1zM182 647h5v5h-5zm-1 2h7v1h-7zm3-3h1v7h-1zM182 697h5v5h-5zm-1 2h7v1h-7zm3-3h1v7h-1zM182 743h5v5h-5zm-1 2h7v1h-7zm3-3h1v7h-1zM191 739h5v5h-5zm-1 2h7v1h-7zm3-3h1v7h-1zM192 690h5v5h-5zm-1 2h7v1h-7zm3-3h1v7h-1zM193 646h5v5h-5zm-1 2h7v1h-7zm3-3h1v7h-1zM218 722h5v5h-5zm-1 2h7v1h-7zm3-3h1v7h-1zM227 661h5v5h-5zm-1 2h7v1h-7zm3-3h1v7h-1zM253 670h5v5h-5zm-1 2h7v1h-7zm3-3h1v7h-1zM254 753h5v5h-5zm-1 2h7v1h-7zm3-3h1v7h-1zM257 632h5v5h-5zm-1 2h7v1h-7zm3-3h1v7h-1zM258 656h5v5h-5zm-1 2h7v1h-7zm3-3h1v7h-1zM258 690h5v5h-5zm-1 2h7v1h-7zm3-3h1v7h-1zM269 568h5v5h-5zm-1 2h7v1h-7zm3-3h1v7h-1z"/>
<path d="M84.5 660.5H569.5" stroke="#009e73" stroke-width="1" fill="none" shape-rendering="crispEdges"/>
<path d="M689.5 840.0V830.0M689.5 481.0V491.0M742.5 840.0V830.0M742.5 481.0V491.0M796.5 840.0V830.0M796.5 481.0V491.0M849.5 840.0V830.0M849.5 481.0V491.0M902.5 840.0V830.0M902.5 481.0V491.0M956.5 840.0V830.0M956.5 481.0V491.0M1009.5 840.0V830.0M1009.5 481.0V491.0M1062.5 840.0V830.0M1062.5 481.0V491.0M1116.5 840.0V830.0M1116.5 481.0V491.0M684.0 526.5H694.0M1170.0 526.5H1160.0M684.0 570.5H694.0M1170.0 570.5H1160.0M684.0 615.5H694.0M1170.0 615.5H1160.0M684.0 660.5H694.0M1170.0 660.5H1160.0M684.0 705.5H694.0M1170.0 705.5H1160.0M684.0 749.5H694.0M1170.0 749.5H1160.0M684.0 794.5H694.0M1170.0 794.5H1160.0" stroke="#000" stroke-width="1" fill="none" shape-rendering="crispEdges"/>
<rect x="684.5" y="481.5" width="485.0" height="358.0" fill="none" stroke="#000" stroke-width="1" shape-rendering="crispEdges"/>
<text x="689.5" y="862.1" text-anchor="middle">2008</text>
<text x="742.5" y="862.1" text-anchor="middle">2010</text>
<text x="796.5" y="862.1" text-anchor="middle">2012</text>
<text x="849.5" y="862.1" text-anchor="middle">2014</text>
<text x="902.5" y="862.1" text-anchor="middle">2016</text>
<text x="956.5" y="862.1" text-anchor="middle">2018</text>
<text x="1009.5" y="862.1" text-anchor="middle">2020</text>
<text x="1062.5" y="862.1" text-anchor="middle">2022</text>
<text x="1116.5" y="862.1" text-anchor="middle">2024</text>
<text x="1169.5" y="862.1" text-anchor="middle">2026</text>
<text x="670.3" y="485.0" text-anchor="end">1.4</text>
<text x="670.3" y="530.0" text-anchor="end">1.3</text>
<text x="670.3" y="574.0" text-anchor="end">1.2</text>
<text x="670.3" y="619.0" text-anchor="end">1.1</text>
<text x="670.3" y="664.0" text-anchor="end">1</text>
<text x="670.3" y="709.0" text-anchor="end">0.9</text>
<text x="670.3" y="753.0" text-anchor="end">0.8</text>
<text x="670.3" y="798.0" text-anchor="end">0.7</text>
<text x="670.3" y="843.0" text-anchor="end">0.6</text>
<text x="923.7" y="889.5" text-anchor="middle">t (anni)</text>
<text transform="translate(619.6 661.5) rotate(-90)" text-anchor="middle">Voto/Media voti</text>
<path fill="#9400d3" d="M753 608h5v5h-5zm-1 2h7v1h-7zm3-3h1v7h-1zM753 628h5v5h-5zm-1 2h7v1h-7zm3-3h1v7h-1zM753 636h5v5h-5zm-1 2h7v1h-7zm3-3h1v7h-1zM753 657h5v5h-5zm-1 2h7v1h-7zm3-3h1v7h-1zM753 665h5v5h-5zm-1 2h7v1h-7zm3-3h1v7h-1zM753 679h5v5h-5zm-1 2h7v1h-7zm3-3h1v7h-1zM755 614h5v5h-5zm-1 2h7v1h-7zm3-3h1v7h-1zM755 624h5v5h-5zm-1 2h7v1h-7zm3-3h1v7h-1zM755 694h5v5h-5zm-1 2h7v1h-7zm3-3h1v7h-1zM756 618h5v5h-5zm-1 2h7v1h-7zm3-3h1v7h-1zM756 697h5v5h-5zm-1 2h7v1h-7zm3-3h1v7h-1zM760 632h5v5h-5zm-1 2h7v1h-7zm3-3h1v7h-1zM760 652h5v5h-5zm-1 2h7v1h-7zm3-3h1v7h-1zM760 736h5v5h-5zm-1 2h7v1h-7zm3-3h1v7h-1zM765 723h5v5h-5zm-1 2h7v1h-7zm3-3h1v7h-1zM780 656h5v5h-5zm-1 2h7v1h-7zm3-3h1v7h-1zM781 563h5v5h-5zm-1 2h7v1h-7zm3-3h1v7h-1zM781 621h5v5h-5zm-1 2h7v1h-7zm3-3h1v7h-1zM781 671h5v5h-5zm-1 2h7v1h-7zm3-3h1v7h-1zM782 568h5v5h-5zm-1 2h7v1h-7zm3-3h1v7h-1zM782 608h5v5h-5zm-1 2h7v1h-7zm3-3h1v7h-1zM782 639h5v5h-5zm-1 2h7v1h-7zm3-3h1v7h-1zM782 662h5v5h-5zm-1 2h7v1h-7zm3-3h1v7h-1zM798 661h5v5h-5zm-1 2h7v1h-7zm3-3h1v7h-1zM808 568h5v5h-5zm-1 2h7v1h-7zm3-3h1v7h-1zM808 576h5v5h-5zm-1 2h7v1h-7zm3-3h1v7h-1zM808 607h5v5h-5zm-1 2h7v1h-7zm3-3h1v7h-1zM808 683h5v5h-5zm-1 2h7v1h-7zm3-3h1v7h-1zM808 716h5v5h-5zm-1 2h7v1h-7zm3-3h1v7h-1zM809 608h5v5h-5zm-1 2h7v1h-7zm3-3h1v7h-1zM809 649h5v5h-5zm-1 2h7v1h-7zm3-3h1v7h-1zM809 689h5v5h-5zm-1 2h7v1h-7zm3-3h1v7h-1zM825 665h5v5h-5zm-1 2h7v1h-7zm3-3h1v7h-1zM835 592h5v5h-5zm-1 2h7v1h-7zm3-3h1v7h-1zM835 600h5v5h-5zm-1 2h7v1h-7zm3-3h1v7h-1zM835 616h5v5h-5zm-1 2h7v1h-7zm3-3h1v7h-1zM835 631h5v5h-5zm-1 2h7v1h-7zm3-3h1v7h-1zM835 632h5v5h-5zm-1 2h7v1h-7zm3-3h1v7h-1zM835 654h5v5h-5zm-1 2h7v1h-7zm3-3h1v7h-1zM835 665h5v5h-5zm-1 2h7v1h-7zm3-3h1v7h-1zM860 584h5v5h-5zm-1 2h7v1h-7zm3-3h1v7h-1zM860 605h5v5h-5zm-1 2h7v1h-7zm3-3h1v7h-1zM860 612h5v5h-5zm-1 2h7v1h-7zm3-3h1v7h-1zM860 638h5v5h-5zm-1 2h7v1h-7zm3-3h1v7h-1zM860 639h5v5h-5zm-1 2h7v1h-7zm3-3h1v7h-1zM860 648h5v5h-5zm-1 2h7v1h-7zm3-3h1v7h-1zM860 656h5v5h-5zm-1 2h7v1h-7zm3-3h1v7h-1zM860 661h5v5h-5zm-1 2h7v1h-7zm3-3h1v7h-1zM860 665h5v5h-5zm-1 2h7v1h-7zm3-3h1v7h-1zM860 714h5v5h-5zm-1 2h7v1h-7zm3-3h1v7h-1zM861 716h5v5h-5zm-1 2h7v1h-7zm3-3h1v7h-1zM866 739h5v5h-5zm-1 2h7v1h-7zm3-3h1v7h-1zM887 623h5v5h-5zm-1 2h7v1h-7zm3-3h1v7h-1zM887 642h5v5h-5zm-1 2h7v1h-7zm3-3h1v7h-1zM887 681h5v5h-5zm-1 2h7v1h-7zm3-3h1v7h-1zM887 701h5v5h-5zm-1 2h7v1h-7zm3-3h1v7h-1zM888 639h5v5h-5zm-1 2h7v1h-7zm3-3h1v7h-1zM888 665h5v5h-5zm-1 2h7v1h-7zm3-3h1v7h-1zM888 689h5v5h-5zm-1 2h7v1h-7zm3-3h1v7h-1zM888 716h5v5h-5zm-1 2h7v1h-7zm3-3h1v7h-1zM889 684h5v5h-5zm-1 2h7v1h-7zm3-3h1v7h-1zM893 649h5v5h-5zm-1 2h7v1h-7zm3-3h1v7h-1zM893 690h5v5h-5zm-1 2h7v1h-7zm3-3h1v7h-1zM913 650h5v5h-5zm-1 2h7v1h-7zm3-3h1v7h-1zM913 791h5v5h-5zm-1 2h7v1h-7zm3-3h1v7h-1zM914 672h5v5h-5zm-1 2h7v1h-7zm3-3h1v7h-1zM915 617h5v5h-5zm-1 2h7v1h-7zm3-3h1v7h-1zM915 636h5v5h-5zm-1 2h7v1h-7zm3-3h1v7h-1zM915 642h5v5h-5zm-1 2h7v1h-7zm3-3h1v7h-1zM915 686h5v5h-5zm-1 2h7v1h-7zm3-3h1v7h-1zM915 704h5v5h-5zm-1 2h7v1h-7zm3-3h1v7h-1zM916 557h5v5h-5zm-1 2h7v1h-7zm3-3h1v7h-1zM939 654h5v5h-5zm-1 2h7v1h-7zm3-3h1v7h-1zM939 695h5v5h-5zm-1 2h7v1h-7zm3-3h1v7h-1zM940 645h5v5h-5zm-1 2h7v1h-7zm3-3h1v7h-1zM940 659h5v5h-5zm-1 2h7v1h-7zm3-3h1v7h-1zM940 663h5v5h-5zm-1 2h7v1h-7zm3-3h1v7h-1zM941 621h5v5h-5zm-1 2h7v1h-7zm3-3h1v7h-1zM941 670h5v5h-5zm-1 2h7v1h-7zm3-3h1v7h-1zM941 689h5v5h-5zm-1 2h7v1h-7zm3-3h1v7h-1zM942 583h5v5h-5zm-1 2h7v1h-7zm3-3h1v7h-1zM942 613h5v5h-5zm-1 2h7v1h-7zm3-3h1v7h-1zM942 625h5v5h-5zm-1 2h7v1h-7zm3-3h1v7h-1zM942 647h5v5h-5zm-1 2h7v1h-7zm3-3h1v7h-1zM947 568h5v5h-5zm-1 2h7v1h-7zm3-3h1v7h-1zM947 692h5v5h-5zm-1 2h7v1h-7zm3-3h1v7h-1zM967 621h5v5h-5zm-1 2h7v1h-7zm3-3h1v7h-1zM967 651h5v5h-5zm-1 2h7v1h-7zm3-3h1v7h-1zM967 656h5v5h-5zm-1 2h7v1h-7zm3-3h1v7h-1zM967 677h5v5h-5zm-1 2h7v1h-7zm3-3h1v7h-1zM968 628h5v5h-5zm-1 2h7v1h-7zm3-3h1v7h-1zM968 654h5v5h-5zm-1 2h7v1h-7zm3-3h1v7h-1zM968 686h5v5h-5zm-1 2h7v1h-7zm3-3h1v7h-1zM968 699h5v5h-5zm-1 2h7v1h-7zm3-3h1v7h-1zM969 591h5v5h-5zm-1 2h7v1h-7zm3-3h1v7h-1zM969 621h5v5h-5zm-1 2h7v1h-7zm3-3h1v7h-1zM969 646h5v5h-5zm-1 2h7v1h-7zm3-3h1v7h-1zM969 695h5v5h-5zm-1 2h7v1h-7zm3-3h1v7h-1zM969 705h5v5h-5zm-1 2h7v1h-7zm3-3h1v7h-1zM969 716h5v5h-5zm-1 2h7v1h-7zm3-3h1v7h-1zM969 719h5v5h-5zm-1 2h7v1h-7zm3-3h1v7h-1zM970 676h5v5h-5zm-1 2h7v1h-7zm3-3h1v7h-1zM984 648h5v5h-5zm-1 2h7v1h-7zm3-3h1v7h-1zM984 674h5v5h-5zm-1 2h7v1h-7zm3-3h1v7h-1zM994 612h5v5h-5zm-1 2h7v1h-7zm3-3h1v7h-1zM994 624h5v5h-5zm-1 2h7v1h-7zm3-3h1v7h-1zM994 648h5v5h-5zm-1 2h7v1h-7zm3-3h1v7h-1zM994 672h5v5h-5zm-1 2h7v1h-7zm3-3h1v7h-1zM996 566h5v5h-5zm-1 2h7v1h-7zm3-3h1v7h-1zM996 606h5v5h-5zm-1 2h7v1h-7zm3-3h1v7h-1zM996 619h5v5h-5zm-1 2h7v1h-7zm3-3h1v7h-1zM996 631h5v5h-5zm-1 2h7v1h-7zm3-3h1v7h-1zM996 634h5v5h-5zm-1 2h7v1h-7zm3-3h1v7h-1zM996 651h5v5h-5zm-1 2h7v1h-7zm3-3h1v7h-1zM996 751h5v5h-5zm-1 2h7v1h-7zm3-3h1v7h-1zM999 660h5v5h-5zm-1 2h7v1h-7zm3-3h1v7h-1zM999 716h5v5h-5zm-1 2h7v1h-7zm3-3h1v7h-1zM999 745h5v5h-5zm-1 2h7v1h-7zm3-3h1v7h-1zM1008 620h5v5h-5zm-1 2h7v1h-7zm3-3h1v7h-1zM1008 706h5v5h-5zm-1 2h7v1h-7zm3-3h1v7h-1zM1008 715h5v5h-5zm-1 2h7v1h-7zm3-3h1v7h-1zM1010 679h5v5h-5zm-1 2h7v1h-7zm3-3h1v7h-1zM1010 768h5v5h-5zm-1 2h7v1h-7zm3-3h1v7h-1zM1019 546h5v5h-5zm-1 2h7v1h-7zm3-3h1v7h-1zM1019 578h5v5h-5zm-1 2h7v1h-7zm3-3h1v7h-1zM1019 604h5v5h-5zm-1 2h7v1h-7zm3-3h1v7h-1zM1019 614h5v5h-5zm-1 2h7v1h-7zm3-3h1v7h-1zM1019 628h5v5h-5zm-1 2h7v1h-7zm3-3h1v7h-1zM1019 638h5v5h-5zm-1 2h7v1h-7zm3-3h1v7h-1zM1019 648h5v5h-5zm-1 2h7v1h-7zm3-3h1v7h-1zM1019 659h5v5h-5zm-1 2h7v1h-7zm3-3h1v7h-1zM1021 545h5v5h-5zm-1 2h7v1h-7zm3-3h1v7h-1zM1021 573h5v5h-5zm-1 2h7v1h-7zm3-3h1v7h-1zM1021 623h5v5h-5zm-1 2h7v1h-7zm3-3h1v7h-1zM1021 639h5v5h-5zm-1 2h7v1h-7zm3-3h1v7h-1zM1021 663h5v5h-5zm-1 2h7v1h-7zm3-3h1v7h-1zM1021 707h5v5h-5zm-1 2h7v1h-7zm3-3h1v7h-1zM1022 684h5v5h-5zm-1 2h7v1h-7zm3-3h1v7h-1zM1023 640h5v5h-5zm-1 2h7v1h-7zm3-3h1v7h-1zM1023 667h5v5h-5zm-1 2h7v1h-7zm3-3h1v7h-1zM1026 669h5v5h-5zm-1 2h7v1h-7zm3-3h1v7h-1zM1026 687h5v5h-5zm-1 2h7v1h-7zm3-3h1v7h-1zM1038 746h5v5h-5zm-1 2h7v1h-7zm3-3h1v7h-1zM1046 627h5v5h-5zm-1 2h7v1h-7zm3-3h1v7h-1zM1046 681h5v5h-5zm-1 2h7v1h-7zm3-3h1v7h-1zM1047 642h5v5h-5zm-1 2h7v1h-7zm3-3h1v7h-1zM1047 650h5v5h-5zm-1 2h7v1h-7zm3-3h1v7h-1zM1047 669h5v5h-5zm-1 2h7v1h-7zm3-3h1v7h-1zM1048 638h5v5h-5zm-1 2h7v1h-7zm3-3h1v7h-1zM1048 646h5v5h-5zm-1 2h7v1h-7zm3-3h1v7h-1zM1048 654h5v5h-5zm-1 2h7v1h-7zm3-3h1v7h-1zM1048 660h5v5h-5zm-1 2h7v1h-7zm3-3h1v7h-1zM1048 696h5v5h-5zm-1 2h7v1h-7zm3-3h1v7h-1zM1048 705h5v5h-5zm-1 2h7v1h-7zm3-3h1v7h-1zM1048 736h5v5h-5zm-1 2h7v1h-7zm3-3h1v7h-1zM1048 753h5v5h-5zm-1 2h7v1h-7zm3-3h1v7h-1zM1049 633h5v5h-5zm-1 2h7v1h-7zm3-3h1v7h-1zM1049 664h5v5h-5zm-1 2h7v1h-7zm3-3h1v7h-1zM1049 680h5v5h-5zm-1 2h7v1h-7zm3-3h1v7h-1zM1049 689h5v5h-5zm-1 2h7v1h-7zm3-3h1v7h-1zM1049 712h5v5h-5zm-1 2h7v1h-7zm3-3h1v7h-1zM1049 739h5v5h-5zm-1 2h7v1h-7zm3-3h1v7h-1zM1064 759h5v5h-5zm-1 2h7v1h-7zm3-3h1v7h-1zM1073 619h5v5h-5zm-1 2h7v1h-7zm3-3h1v7h-1zM1074 604h5v5h-5zm-1 2h7v1h-7zm3-3h1v7h-1zM1074 626h5v5h-5zm-1 2h7v1h-7zm3-3h1v7h-1zM1075 655h5v5h-5zm-1 2h7v1h-7zm3-3h1v7h-1zM1076 658h5v5h-5zm-1 2h7v1h-7zm3-3h1v7h-1zM1076 687h5v5h-5zm-1 2h7v1h-7zm3-3h1v7h-1zM1076 697h5v5h-5zm-1 2h7v1h-7zm3-3h1v7h-1zM1076 700h5v5h-5zm-1 2h7v1h-7zm3-3h1v7h-1zM1076 743h5v5h-5zm-1 2h7v1h-7zm3-3h1v7h-1zM1079 646h5v5h-5zm-1 2h7v1h-7zm3-3h1v7h-1zM1101 627h5v5h-5zm-1 2h7v1h-7zm3-3h1v7h-1zM1102 597h5v5h-5zm-1 2h7v1h-7zm3-3h1v7h-1zM1102 600h5v5h-5zm-1 2h7v1h-7zm3-3h1v7h-1zM1102 632h5v5h-5zm-1 2h7v1h-7zm3-3h1v7h-1zM1102 636h5v5h-5zm-1 2h7v1h-7zm3-3h1v7h-1zM1102 639h5v5h-5zm-1 2h7v1h-7zm3-3h1v7h-1zM1102 652h5v5h-5zm-1 2h7v1h-7zm3-3h1v7h-1zM1102 656h5v5h-5zm-1 2h7v1h-7zm3-3h1v7h-1zM1102 667h5v5h-5zm-1 2h7v1h-7zm3-3h1v7h-1zM1102 670h5v5h-5zm-1 2h7v1h-7zm3-3h1v7h-1zM1102 673h5v5h-5zm-1 2h7v1h-7zm3-3h1v7h-1zM1102 676h5v5h-5zm-1 2h7v1h-7zm3-3h1v7h-1zM1102 679h5v5h-5zm-1 2h7v1h-7zm3-3h1v7h-1zM1102 682h5v5h-5zm-1 2h7v1h-7zm3-3h1v7h-1zM1102 684h5v5h-5zm-1 2h7v1h-7zm3-3h1v7h-1zM1102 690h5v5h-5zm-1 2h7v1h-7zm3-3h1v7h-1zM1102 697h5v5h-5zm-1 2h7v1h-7zm3-3h1v7h-1zM1102 713h5v5h-5zm-1 2h7v1h-7zm3-3h1v7h-1zM1102 727h5v5h-5zm-1 2h7v1h-7zm3-3h1v7h-1zM1115 692h5v5h-5zm-1 2h7v1h-7zm3-3h1v7h-1zM1115 722h5v5h-5zm-1 2h7v1h-7zm3-3h1v7h-1zM1126 674h5v5h-5zm-1 2h7v1h-7zm3-3h1v7h-1zM1126 679h5v5h-5zm-1 2h7v1h-7zm3-3h1v7h-1zM1126 682h5v5h-5zm-1 2h7v1h-7zm3-3h1v7h-1zM1127 638h5v5h-5zm-1 2h7v1h-7zm3-3h1v7h-1zM1127 667h5v5h-5zm-1 2h7v1h-7zm3-3h1v7h-1zM1128 542h5v5h-5zm-1 2h7v1h-7zm3-3h1v7h-1zM1128 598h5v5h-5zm-1 2h7v1h-7zm3-3h1v7h-1zM1128 624h5v5h-5zm-1 2h7v1h-7zm3-3h1v7h-1zM1128 629h5v5h-5zm-1 2h7v1h-7zm3-3h1v7h-1zM1128 651h5v5h-5zm-1 2h7v1h-7zm3-3h1v7h-1zM1129 600h5v5h-5zm-1 2h7v1h-7zm3-3h1v7h-1zM1129 639h5v5h-5zm-1 2h7v1h-7zm3-3h1v7h-1zM1133 646h5v5h-5zm-1 2h7v1h-7zm3-3h1v7h-1zM1133 736h5v5h-5zm-1 2h7v1h-7zm3-3h1v7h-1zM1153 599h5v5h-5zm-1 2h7v1h-7zm3-3h1v7h-1zM1153 653h5v5h-5zm-1 2h7v1h-7zm3-3h1v7h-1zM1154 639h5v5h-5zm-1 2h7v1h-7zm3-3h1v7h-1zM1154 712h5v5h-5zm-1 2h7v1h-7zm3-3h1v7h-1zM1155 589h5v5h-5zm-1 2h7v1h-7zm3-3h1v7h-1zM1155 636h5v5h-5zm-1 2h7v1h-7zm3-3h1v7h-1zM1155 646h5v5h-5zm-1 2h7v1h-7zm3-3h1v7h-1zM1155 667h5v5h-5zm-1 2h7v1h-7zm3-3h1v7h-1zM1155 680h5v5h-5zm-1 2h7v1h-7zm3-3h1v7h-1zM1156 629h5v5h-5zm-1 2h7v1h-7zm3-3h1v7h-1zM1159 591h5v5h-5zm-1 2h7v1h-7zm3-3h1v7h-1zM1159 634h5v5h-5zm-1 2h7v1h-7zm3-3h1v7h-1zM1160 630h5v5h-5zm-1 2h7v1h-7zm3-3h1v7h-1z"/>
<path d="M684.5 660.5H1169.5" stroke="#009e73" stroke-width="1" fill="none" shape-rendering="crispEdges"/>
</svg></body></html>
